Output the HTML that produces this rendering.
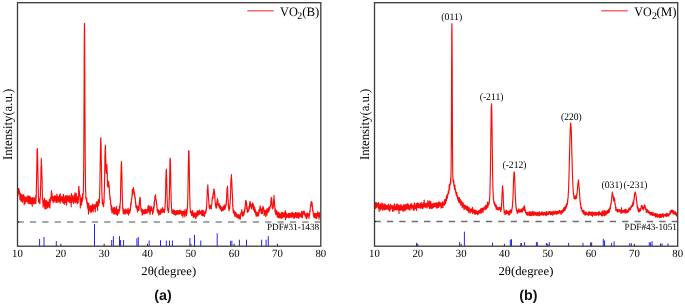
<!DOCTYPE html>
<html><head><meta charset="utf-8"><style>
html,body{margin:0;padding:0;background:#fff;width:685px;height:305px;overflow:hidden;font-family:"Liberation Serif",serif;}
svg{display:block;will-change:transform} text{text-rendering:geometricPrecision}
</style></head><body>
<svg width="685" height="305" viewBox="0 0 685 305">
<rect width="685" height="305" fill="#fff"/>
<g font-family="Liberation Serif, serif">
<line x1="17.5" y1="222.0" x2="320.8" y2="222.0" stroke="#8a8a8a" stroke-width="1.3" stroke-dasharray="6.3 6.08"/>
<line x1="374.5" y1="221.5" x2="677.7" y2="221.5" stroke="#6e6e6e" stroke-width="1.3" stroke-dasharray="6.3 6.08"/>
<line x1="17.5" y1="222.1" x2="19.1" y2="222.1" stroke="#222" stroke-width="1.2"/><line x1="374.5" y1="221.5" x2="376.1" y2="221.5" stroke="#222" stroke-width="1.2"/>
<g stroke="#2323f5" stroke-width="1.0"><line x1="39.6" y1="246.2" x2="39.6" y2="238.9"/><line x1="44.0" y1="246.2" x2="44.0" y2="237.0"/><line x1="56.3" y1="246.2" x2="56.3" y2="241.0"/><line x1="94.5" y1="246.2" x2="94.5" y2="224.0"/><line x1="111.7" y1="246.2" x2="111.7" y2="240.0"/><line x1="113.4" y1="246.2" x2="113.4" y2="236.2"/><line x1="119.5" y1="246.2" x2="119.5" y2="236.2"/><line x1="120.6" y1="246.2" x2="120.6" y2="240.0"/><line x1="123.6" y1="246.2" x2="123.6" y2="240.0"/><line x1="136.9" y1="246.2" x2="136.9" y2="238.3"/><line x1="138.3" y1="246.2" x2="138.3" y2="237.1"/><line x1="149.2" y1="246.2" x2="149.2" y2="240.5"/><line x1="160.5" y1="246.2" x2="160.5" y2="240.2"/><line x1="166.3" y1="246.2" x2="166.3" y2="240.5"/><line x1="169.5" y1="246.2" x2="169.5" y2="240.5"/><line x1="172.4" y1="246.2" x2="172.4" y2="240.5"/><line x1="189.9" y1="246.2" x2="189.9" y2="238.0"/><line x1="194.5" y1="246.2" x2="194.5" y2="234.9"/><line x1="200.8" y1="246.2" x2="200.8" y2="240.5"/><line x1="217.2" y1="246.2" x2="217.2" y2="233.3"/><line x1="230.6" y1="246.2" x2="230.6" y2="240.8"/><line x1="231.9" y1="246.2" x2="231.9" y2="240.8"/><line x1="239.4" y1="246.2" x2="239.4" y2="239.7"/><line x1="246.5" y1="246.2" x2="246.5" y2="239.7"/><line x1="261.6" y1="246.2" x2="261.6" y2="239.7"/><line x1="266.1" y1="246.2" x2="266.1" y2="239.7"/><line x1="268.3" y1="246.2" x2="268.3" y2="236.1"/><line x1="416.5" y1="246.2" x2="416.5" y2="242.9"/><line x1="459.6" y1="246.2" x2="459.6" y2="242.0"/><line x1="464.4" y1="246.2" x2="464.4" y2="231.7"/><line x1="492.5" y1="246.2" x2="492.5" y2="242.6"/><line x1="510.3" y1="246.2" x2="510.3" y2="239.7"/><line x1="511.5" y1="246.2" x2="511.5" y2="239.2"/><line x1="520.8" y1="246.2" x2="520.8" y2="243.2"/><line x1="521.6" y1="246.2" x2="521.6" y2="243.0"/><line x1="524.6" y1="246.2" x2="524.6" y2="242.1"/><line x1="536.4" y1="246.2" x2="536.4" y2="242.1"/><line x1="537.3" y1="246.2" x2="537.3" y2="242.1"/><line x1="546.4" y1="246.2" x2="546.4" y2="242.9"/><line x1="549.3" y1="246.2" x2="549.3" y2="242.1"/><line x1="568.6" y1="246.2" x2="568.6" y2="242.9"/><line x1="583.0" y1="246.2" x2="583.0" y2="242.9"/><line x1="590.6" y1="246.2" x2="590.6" y2="242.4"/><line x1="591.7" y1="246.2" x2="591.7" y2="242.4"/><line x1="603.3" y1="246.2" x2="603.3" y2="238.8"/><line x1="604.6" y1="246.2" x2="604.6" y2="240.5"/><line x1="611.6" y1="246.2" x2="611.6" y2="243.0"/><line x1="614.1" y1="246.2" x2="614.1" y2="241.4"/><line x1="629.7" y1="246.2" x2="629.7" y2="243.2"/><line x1="631.4" y1="246.2" x2="631.4" y2="243.2"/><line x1="649.3" y1="246.2" x2="649.3" y2="242.3"/><line x1="650.6" y1="246.2" x2="650.6" y2="242.3"/><line x1="652.1" y1="246.2" x2="652.1" y2="241.1"/><line x1="660.5" y1="246.2" x2="660.5" y2="243.4"/><line x1="662.0" y1="246.2" x2="662.0" y2="243.4"/><line x1="668.0" y1="246.2" x2="668.0" y2="243.4"/></g>
<polyline points="17.9,196.2 18.0,193.9 18.1,192.9 18.2,194.2 18.3,189.9 18.4,193.2 18.5,188.4 18.6,191.2 18.7,189.5 18.8,192.6 18.9,188.9 19.0,189.5 19.1,192.7 19.2,191.2 19.3,192.3 19.4,190.6 19.5,192.4 19.6,194.1 19.7,192.5 19.8,192.2 19.9,199.2 20.0,198.0 20.1,193.3 20.2,193.4 20.3,194.0 20.4,194.1 20.5,193.6 20.6,200.1 20.7,198.5 20.8,198.7 20.9,196.9 21.0,198.8 21.1,200.1 21.2,201.1 21.3,197.5 21.4,199.2 21.5,198.8 21.6,197.6 21.7,194.4 21.8,196.0 21.9,194.6 22.0,197.2 22.1,196.4 22.2,194.8 22.3,201.9 22.4,198.0 22.5,202.2 22.6,199.0 22.7,195.7 22.8,196.9 22.9,201.0 23.0,195.9 23.1,197.9 23.2,198.6 23.3,199.5 23.4,195.0 23.5,198.2 23.6,199.6 23.7,194.7 23.8,198.4 23.9,197.8 24.0,199.7 24.1,199.0 24.2,204.8 24.3,197.6 24.4,196.6 24.5,197.3 24.6,200.2 24.7,200.7 24.8,201.4 24.9,199.7 25.0,200.8 25.1,199.3 25.2,197.7 25.3,203.2 25.4,201.2 25.5,198.7 25.6,197.9 25.7,198.8 25.8,199.2 25.9,199.2 26.0,199.3 26.1,196.7 26.2,200.2 26.3,198.8 26.4,197.1 26.5,199.0 26.6,201.6 26.7,200.3 26.8,199.3 26.9,201.7 27.0,200.8 27.1,199.5 27.2,200.4 27.3,199.6 27.4,198.7 27.5,201.1 27.6,199.4 27.7,196.2 27.8,197.3 27.9,195.8 28.0,203.2 28.1,197.7 28.2,198.8 28.3,198.4 28.4,201.8 28.5,200.6 28.6,198.9 28.7,199.2 28.8,198.5 28.9,196.0 29.0,197.0 29.1,201.8 29.2,203.6 29.3,197.5 29.4,200.3 29.5,196.1 29.6,196.9 29.7,202.3 29.8,199.6 29.9,202.5 30.0,197.5 30.1,197.1 30.2,200.9 30.3,203.5 30.4,202.7 30.5,198.5 30.6,201.1 30.7,197.0 30.8,198.9 30.9,197.3 31.0,203.9 31.1,202.7 31.2,203.0 31.3,201.4 31.4,200.0 31.5,199.2 31.6,203.8 31.7,203.1 31.8,199.7 31.9,200.0 32.0,198.5 32.1,198.4 32.2,201.4 32.3,206.3 32.4,198.2 32.5,197.5 32.6,200.7 32.7,199.8 32.8,201.9 32.9,203.1 33.0,200.1 33.1,201.5 33.2,201.5 33.3,200.3 33.4,198.5 33.5,198.5 33.6,203.7 33.7,200.6 33.8,202.7 33.9,199.4 34.0,200.2 34.1,197.3 34.2,202.6 34.3,198.8 34.4,201.4 34.5,198.9 34.6,202.5 34.7,201.5 34.8,198.9 34.9,203.8 35.0,199.8 35.1,201.3 35.2,202.4 35.3,202.3 35.4,200.2 35.5,200.9 35.6,201.8 35.7,199.9 35.8,195.3 35.9,203.2 36.0,199.7 36.1,198.7 36.2,197.8 36.3,191.0 36.4,186.9 36.5,183.6 36.6,178.7 36.7,173.7 36.8,166.7 36.9,160.8 37.0,157.8 37.1,149.5 37.2,149.4 37.3,150.1 37.4,148.5 37.5,151.3 37.6,158.0 37.7,160.5 37.8,166.1 37.9,172.8 38.0,175.8 38.1,181.0 38.2,188.0 38.3,189.5 38.4,197.7 38.5,195.8 38.6,201.7 38.7,200.2 38.8,200.2 38.9,200.0 39.0,202.4 39.1,198.7 39.2,201.4 39.3,199.0 39.4,199.8 39.5,203.0 39.6,198.9 39.7,200.3 39.8,198.7 39.9,203.7 40.0,200.7 40.1,199.2 40.2,197.7 40.3,196.7 40.4,196.1 40.5,186.9 40.6,188.7 40.7,185.3 40.8,179.5 40.9,175.2 41.0,166.9 41.1,168.9 41.2,166.5 41.3,158.5 41.4,163.4 41.5,163.6 41.6,165.1 41.7,168.3 41.8,169.7 41.9,175.2 42.0,176.4 42.1,179.8 42.2,189.4 42.3,189.1 42.4,199.6 42.5,198.9 42.6,198.9 42.7,199.4 42.8,203.1 42.9,202.1 43.0,201.2 43.1,207.2 43.2,200.7 43.3,202.0 43.4,200.5 43.5,202.9 43.6,201.1 43.7,204.8 43.8,204.8 43.9,201.3 44.0,203.7 44.1,202.9 44.2,204.3 44.3,205.1 44.4,198.5 44.5,202.7 44.6,198.2 44.7,207.3 44.8,202.9 44.9,209.0 45.0,204.3 45.1,203.3 45.2,200.5 45.3,203.5 45.4,204.2 45.5,208.0 45.6,206.3 45.7,206.6 45.8,203.4 45.9,202.5 46.0,208.7 46.1,204.1 46.2,203.1 46.3,208.5 46.4,200.4 46.5,200.8 46.6,203.5 46.7,203.9 46.8,201.7 46.9,201.9 47.0,201.2 47.1,204.9 47.2,203.9 47.3,205.4 47.4,204.6 47.5,202.1 47.6,207.7 47.7,208.0 47.8,203.2 47.9,203.2 48.0,206.0 48.1,202.0 48.2,204.6 48.3,203.5 48.4,203.0 48.5,203.0 48.6,205.0 48.7,206.2 48.8,204.4 48.9,204.4 49.0,202.7 49.1,203.9 49.2,206.9 49.3,199.5 49.4,204.3 49.5,199.3 49.6,201.7 49.7,202.8 49.8,202.0 49.9,208.1 50.0,202.9 50.1,204.1 50.2,199.8 50.3,199.5 50.4,201.2 50.5,197.6 50.6,201.0 50.7,198.9 50.8,200.7 50.9,197.2 51.0,196.0 51.1,196.0 51.2,195.7 51.3,193.5 51.4,192.4 51.5,190.5 51.6,198.3 51.7,198.3 51.8,195.3 51.9,198.2 52.0,193.4 52.1,197.9 52.2,196.6 52.3,196.3 52.4,200.4 52.5,199.9 52.6,198.3 52.7,197.6 52.8,200.2 52.9,196.9 53.0,200.0 53.1,202.6 53.2,200.0 53.3,200.2 53.4,201.6 53.5,198.2 53.6,200.3 53.7,199.7 53.8,196.8 53.9,202.0 54.0,199.5 54.1,202.0 54.2,197.6 54.3,200.2 54.4,195.8 54.5,199.2 54.6,199.7 54.7,196.0 54.8,198.6 54.9,200.6 55.0,198.5 55.1,200.5 55.2,200.6 55.3,198.0 55.4,198.3 55.5,195.9 55.6,197.9 55.7,197.8 55.8,196.2 55.9,198.8 56.0,202.6 56.1,199.8 56.2,200.5 56.3,199.2 56.4,199.2 56.5,200.0 56.6,201.3 56.7,200.2 56.8,199.2 56.9,194.0 57.0,199.1 57.1,202.5 57.2,199.6 57.3,195.8 57.4,195.7 57.5,200.7 57.6,200.7 57.7,196.8 57.8,198.1 57.9,197.4 58.0,200.3 58.1,197.8 58.2,199.1 58.3,198.1 58.4,200.6 58.5,197.1 58.6,201.8 58.7,198.4 58.8,200.0 58.9,201.9 59.0,198.6 59.1,196.0 59.2,199.2 59.3,199.7 59.4,195.0 59.5,198.7 59.6,197.7 59.7,201.1 59.8,200.5 59.9,197.5 60.0,198.7 60.1,202.2 60.2,203.2 60.3,193.7 60.4,198.8 60.5,198.0 60.6,199.2 60.7,199.7 60.8,198.4 60.9,199.2 61.0,198.4 61.1,196.6 61.2,197.3 61.3,198.8 61.4,201.1 61.5,200.6 61.6,198.3 61.7,197.9 61.8,199.0 61.9,199.8 62.0,198.0 62.1,197.8 62.2,199.4 62.3,196.9 62.4,199.1 62.5,197.8 62.6,201.9 62.7,199.7 62.8,196.7 62.9,200.5 63.0,202.9 63.1,199.5 63.2,201.3 63.3,195.3 63.4,194.4 63.5,197.8 63.6,198.7 63.7,197.0 63.8,200.0 63.9,200.8 64.0,198.7 64.1,203.6 64.2,198.1 64.3,200.4 64.4,204.1 64.5,200.9 64.6,204.3 64.7,199.2 64.8,202.9 64.9,199.5 65.0,196.2 65.1,196.1 65.2,198.8 65.3,202.6 65.4,200.1 65.5,200.4 65.6,198.3 65.7,200.5 65.8,199.0 65.9,202.3 66.0,195.6 66.1,199.6 66.2,198.3 66.3,201.1 66.4,199.5 66.5,197.9 66.6,205.2 66.7,196.5 66.8,201.0 66.9,201.4 67.0,197.1 67.1,198.7 67.2,195.6 67.3,199.1 67.4,196.3 67.5,197.5 67.6,199.4 67.7,200.9 67.8,198.5 67.9,197.8 68.0,200.5 68.1,198.5 68.2,196.3 68.3,201.2 68.4,196.1 68.5,197.9 68.6,199.4 68.7,200.3 68.8,199.1 68.9,200.6 69.0,201.9 69.1,201.2 69.2,200.8 69.3,197.5 69.4,201.4 69.5,200.8 69.6,197.9 69.7,195.4 69.8,201.3 69.9,202.7 70.0,200.4 70.1,200.0 70.2,198.3 70.3,198.1 70.4,200.0 70.5,197.3 70.6,200.8 70.7,200.5 70.8,199.7 70.9,199.8 71.0,198.1 71.1,196.9 71.2,206.8 71.3,194.9 71.4,196.0 71.5,193.6 71.6,200.7 71.7,198.4 71.8,200.2 71.9,202.6 72.0,196.6 72.1,198.0 72.2,198.0 72.3,195.6 72.4,196.7 72.5,200.1 72.6,196.7 72.7,198.6 72.8,198.4 72.9,200.1 73.0,198.0 73.1,199.1 73.2,201.9 73.3,201.9 73.4,198.2 73.5,200.1 73.6,203.6 73.7,198.6 73.8,198.4 73.9,196.1 74.0,199.4 74.1,195.1 74.2,199.5 74.3,202.2 74.4,195.3 74.5,196.1 74.6,198.0 74.7,200.9 74.8,196.7 74.9,198.7 75.0,192.7 75.1,194.9 75.2,197.6 75.3,197.8 75.4,196.4 75.5,195.2 75.6,200.6 75.7,202.7 75.8,197.2 75.9,199.0 76.0,198.2 76.1,198.6 76.2,201.4 76.3,193.2 76.4,198.2 76.5,197.1 76.6,201.9 76.7,199.2 76.8,200.3 76.9,201.6 77.0,199.6 77.1,198.5 77.2,199.8 77.3,203.8 77.4,199.7 77.5,198.9 77.6,196.8 77.7,200.2 77.8,199.3 77.9,199.0 78.0,202.0 78.1,202.8 78.2,198.9 78.3,196.0 78.4,199.7 78.5,197.3 78.6,194.4 78.7,186.6 78.8,189.0 78.9,186.4 79.0,188.8 79.1,192.6 79.2,190.2 79.3,190.7 79.4,190.8 79.5,195.5 79.6,194.1 79.7,195.6 79.8,196.8 79.9,196.3 80.0,201.6 80.1,198.9 80.2,195.5 80.3,207.9 80.4,201.7 80.5,202.1 80.6,204.3 80.7,198.1 80.8,200.2 80.9,203.8 81.0,200.1 81.1,199.1 81.2,201.5 81.3,198.4 81.4,202.1 81.5,199.1 81.6,205.1 81.7,197.9 81.8,201.8 81.9,197.6 82.0,200.0 82.1,198.9 82.2,197.1 82.3,201.4 82.4,198.1 82.5,194.2 82.6,196.7 82.7,199.8 82.8,197.3 82.9,193.3 83.0,193.7 83.1,194.4 83.2,194.4 83.3,193.0 83.4,189.5 83.5,184.3 83.6,175.3 83.7,166.9 83.8,154.0 83.9,134.1 84.0,112.0 84.1,91.6 84.2,61.4 84.3,40.6 84.4,24.5 84.5,23.3 84.6,30.7 84.7,45.1 84.8,65.0 84.9,91.8 85.0,115.5 85.1,134.5 85.2,153.9 85.3,165.3 85.4,177.4 85.5,185.0 85.6,191.2 85.7,190.9 85.8,193.5 85.9,198.4 86.0,197.5 86.1,199.2 86.2,197.6 86.3,197.4 86.4,198.6 86.5,201.0 86.6,200.9 86.7,198.4 86.8,203.3 86.9,202.1 87.0,203.3 87.1,203.7 87.2,203.6 87.3,201.8 87.4,206.2 87.5,206.1 87.6,203.5 87.7,208.1 87.8,206.8 87.9,203.1 88.0,209.1 88.1,207.6 88.2,208.4 88.3,205.0 88.4,208.3 88.5,214.1 88.6,208.7 88.7,208.4 88.8,203.2 88.9,206.7 89.0,212.0 89.1,208.6 89.2,205.4 89.3,210.0 89.4,207.6 89.5,206.8 89.6,210.1 89.7,210.6 89.8,210.2 89.9,209.6 90.0,210.0 90.1,209.9 90.2,208.6 90.3,207.9 90.4,208.7 90.5,205.7 90.6,207.6 90.7,209.3 90.8,206.2 90.9,212.8 91.0,211.4 91.1,210.9 91.2,207.3 91.3,206.5 91.4,211.8 91.5,209.6 91.6,205.9 91.7,206.7 91.8,208.7 91.9,211.0 92.0,209.6 92.1,207.1 92.2,206.8 92.3,210.0 92.4,204.2 92.5,208.2 92.6,209.6 92.7,211.0 92.8,205.5 92.9,207.8 93.0,208.6 93.1,205.4 93.2,212.0 93.3,207.1 93.4,206.8 93.5,205.9 93.6,205.4 93.7,207.6 93.8,206.2 93.9,204.8 94.0,207.6 94.1,208.7 94.2,204.9 94.3,206.2 94.4,205.5 94.5,205.4 94.6,205.0 94.7,205.6 94.8,205.1 94.9,206.4 95.0,209.8 95.1,206.7 95.2,205.9 95.3,211.8 95.4,207.9 95.5,205.0 95.6,206.2 95.7,205.3 95.8,204.2 95.9,204.4 96.0,206.0 96.1,206.5 96.2,205.2 96.3,202.7 96.4,204.9 96.5,207.0 96.6,206.1 96.7,201.7 96.8,204.0 96.9,205.2 97.0,204.3 97.1,205.8 97.2,202.1 97.3,205.8 97.4,205.6 97.5,203.8 97.6,210.4 97.7,204.8 97.8,204.2 97.9,206.2 98.0,204.4 98.1,204.7 98.2,204.9 98.3,199.6 98.4,201.2 98.5,204.4 98.6,201.4 98.7,205.6 98.8,204.2 98.9,202.2 99.0,202.4 99.1,203.4 99.2,202.8 99.3,202.9 99.4,201.9 99.5,199.2 99.6,196.8 99.7,191.6 99.8,188.5 99.9,185.7 100.0,178.1 100.1,169.7 100.2,163.4 100.3,158.6 100.4,152.9 100.5,146.9 100.6,143.7 100.7,140.6 100.8,137.7 100.9,140.4 101.0,143.0 101.1,146.7 101.2,152.8 101.3,161.4 101.4,163.3 101.5,171.6 101.6,177.5 101.7,182.6 101.8,187.3 101.9,193.4 102.0,194.2 102.1,198.4 102.2,199.5 102.3,204.0 102.4,199.6 102.5,204.0 102.6,201.7 102.7,203.6 102.8,203.7 102.9,202.4 103.0,203.5 103.1,205.7 103.2,204.4 103.3,205.2 103.4,202.0 103.5,204.8 103.6,206.7 103.7,203.1 103.8,203.0 103.9,199.9 104.0,203.2 104.1,199.4 104.2,195.9 104.3,191.5 104.4,189.8 104.5,182.6 104.6,177.2 104.7,173.4 104.8,169.0 104.9,155.4 105.0,155.3 105.1,150.6 105.2,147.4 105.3,146.9 105.4,145.2 105.5,150.6 105.6,155.0 105.7,159.2 105.8,159.2 105.9,164.0 106.0,171.5 106.1,166.0 106.2,170.4 106.3,173.5 106.4,170.5 106.5,167.4 106.6,164.6 106.7,165.5 106.8,164.6 106.9,167.0 107.0,167.9 107.1,170.4 107.2,172.7 107.3,176.9 107.4,179.4 107.5,185.8 107.6,184.1 107.7,184.2 107.8,186.0 107.9,185.1 108.0,187.1 108.1,186.6 108.2,186.9 108.3,184.6 108.4,186.6 108.5,185.4 108.6,186.7 108.7,181.2 108.8,184.1 108.9,186.1 109.0,185.7 109.1,184.8 109.2,187.7 109.3,188.4 109.4,189.7 109.5,192.5 109.6,193.1 109.7,194.0 109.8,195.8 109.9,197.2 110.0,199.6 110.1,196.6 110.2,197.7 110.3,199.9 110.4,199.3 110.5,200.3 110.6,200.3 110.7,204.5 110.8,203.6 110.9,204.0 111.0,204.6 111.1,207.0 111.2,207.1 111.3,210.0 111.4,205.4 111.5,206.2 111.6,209.1 111.7,206.3 111.8,212.3 111.9,211.0 112.0,208.6 112.1,207.5 112.2,213.0 112.3,211.3 112.4,209.9 112.5,210.9 112.6,208.7 112.7,211.7 112.8,210.7 112.9,210.7 113.0,209.6 113.1,211.7 113.2,209.7 113.3,208.9 113.4,210.0 113.5,209.7 113.6,208.2 113.7,212.0 113.8,214.1 113.9,210.9 114.0,207.1 114.1,212.2 114.2,212.3 114.3,210.3 114.4,209.5 114.5,209.2 114.6,211.2 114.7,211.6 114.8,214.0 114.9,207.6 115.0,210.2 115.1,211.1 115.2,213.3 115.3,210.8 115.4,210.5 115.5,213.4 115.6,208.8 115.7,210.2 115.8,211.9 115.9,212.3 116.0,210.7 116.1,209.3 116.2,211.5 116.3,212.8 116.4,214.6 116.5,210.6 116.6,206.3 116.7,212.5 116.8,212.9 116.9,213.2 117.0,211.3 117.1,209.6 117.2,212.9 117.3,210.0 117.4,210.1 117.5,215.3 117.6,211.6 117.7,210.0 117.8,209.6 117.9,210.9 118.0,211.5 118.1,211.2 118.2,212.3 118.3,211.5 118.4,210.6 118.5,212.4 118.6,210.6 118.7,211.8 118.8,212.5 118.9,213.8 119.0,210.6 119.1,209.1 119.2,211.2 119.3,211.2 119.4,210.2 119.5,205.9 119.6,209.6 119.7,210.2 119.8,209.4 119.9,208.5 120.0,207.3 120.1,203.2 120.2,204.1 120.3,203.1 120.4,200.7 120.5,196.7 120.6,190.8 120.7,186.6 120.8,182.1 120.9,176.2 121.0,172.9 121.1,171.0 121.2,165.1 121.3,164.9 121.4,163.5 121.5,161.5 121.6,163.4 121.7,170.9 121.8,171.7 121.9,175.7 122.0,179.9 122.1,186.1 122.2,192.3 122.3,197.1 122.4,197.8 122.5,202.0 122.6,203.1 122.7,208.8 122.8,207.5 122.9,208.8 123.0,212.0 123.1,209.6 123.2,208.2 123.3,213.6 123.4,213.8 123.5,211.7 123.6,210.8 123.7,213.1 123.8,212.9 123.9,211.7 124.0,212.1 124.1,210.0 124.2,209.9 124.3,210.4 124.4,213.6 124.5,210.9 124.6,211.5 124.7,210.8 124.8,211.5 124.9,212.0 125.0,211.6 125.1,214.2 125.2,211.2 125.3,211.9 125.4,209.6 125.5,210.7 125.6,212.3 125.7,212.5 125.8,208.9 125.9,212.6 126.0,213.1 126.1,213.0 126.2,210.8 126.3,210.9 126.4,210.6 126.5,210.2 126.6,210.8 126.7,213.0 126.8,211.3 126.9,211.3 127.0,210.0 127.1,211.9 127.2,211.7 127.3,212.8 127.4,212.7 127.5,210.9 127.6,211.1 127.7,213.5 127.8,213.6 127.9,208.9 128.0,212.6 128.1,208.1 128.2,213.6 128.3,213.3 128.4,210.1 128.5,215.1 128.6,210.9 128.7,211.7 128.8,210.4 128.9,212.5 129.0,213.6 129.1,212.6 129.2,212.3 129.3,211.8 129.4,210.7 129.5,212.1 129.6,209.7 129.7,210.0 129.8,212.8 129.9,211.0 130.0,210.8 130.1,211.7 130.2,210.1 130.3,208.5 130.4,210.1 130.5,207.9 130.6,204.4 130.7,205.6 130.8,206.1 130.9,203.2 131.0,202.2 131.1,202.8 131.2,203.6 131.3,204.0 131.4,200.0 131.5,199.5 131.6,199.9 131.7,198.2 131.8,198.0 131.9,198.1 132.0,195.2 132.1,195.7 132.2,194.3 132.3,189.6 132.4,195.0 132.5,191.9 132.6,191.3 132.7,189.9 132.8,190.8 132.9,192.1 133.0,191.1 133.1,189.0 133.2,192.4 133.3,190.5 133.4,189.2 133.5,187.5 133.6,190.0 133.7,190.3 133.8,191.4 133.9,189.7 134.0,192.4 134.1,194.6 134.2,191.3 134.3,193.0 134.4,193.3 134.5,195.0 134.6,192.8 134.7,196.1 134.8,196.9 134.9,197.3 135.0,198.4 135.1,196.5 135.2,199.2 135.3,197.7 135.4,199.5 135.5,203.1 135.6,203.7 135.7,201.7 135.8,203.2 135.9,207.3 136.0,205.0 136.1,205.2 136.2,207.6 136.3,206.0 136.4,206.8 136.5,207.1 136.6,207.9 136.7,208.0 136.8,205.8 136.9,208.1 137.0,207.5 137.1,209.6 137.2,209.3 137.3,209.3 137.4,207.8 137.5,212.0 137.6,209.7 137.7,207.5 137.8,210.7 137.9,210.5 138.0,209.6 138.1,206.0 138.2,207.2 138.3,207.7 138.4,209.2 138.5,210.4 138.6,209.4 138.7,209.6 138.8,208.6 138.9,208.4 139.0,210.2 139.1,207.1 139.2,207.7 139.3,203.8 139.4,204.7 139.5,201.1 139.6,200.2 139.7,202.1 139.8,198.2 139.9,198.3 140.0,197.3 140.1,197.6 140.2,197.5 140.3,199.5 140.4,200.9 140.5,203.5 140.6,204.0 140.7,206.0 140.8,207.0 140.9,208.6 141.0,208.6 141.1,211.0 141.2,209.1 141.3,211.5 141.4,210.3 141.5,208.7 141.6,210.0 141.7,210.9 141.8,210.6 141.9,212.3 142.0,210.4 142.1,212.6 142.2,215.1 142.3,211.3 142.4,211.0 142.5,209.9 142.6,214.6 142.7,209.5 142.8,209.5 142.9,210.1 143.0,213.2 143.1,213.5 143.2,211.1 143.3,210.4 143.4,210.1 143.5,213.1 143.6,212.0 143.7,210.5 143.8,213.6 143.9,212.0 144.0,212.9 144.1,211.2 144.2,211.9 144.3,212.1 144.4,213.7 144.5,212.4 144.6,209.9 144.7,212.5 144.8,212.5 144.9,211.3 145.0,209.4 145.1,212.6 145.2,209.3 145.3,213.7 145.4,211.6 145.5,213.0 145.6,212.2 145.7,212.6 145.8,213.5 145.9,210.1 146.0,212.2 146.1,209.5 146.2,212.6 146.3,212.0 146.4,211.4 146.5,211.1 146.6,211.4 146.7,210.0 146.8,211.9 146.9,210.4 147.0,211.0 147.1,213.1 147.2,211.6 147.3,212.4 147.4,211.3 147.5,209.2 147.6,209.8 147.7,210.8 147.8,211.9 147.9,207.2 148.0,208.5 148.1,209.1 148.2,205.2 148.3,206.4 148.4,206.9 148.5,206.6 148.6,207.1 148.7,210.6 148.8,208.4 148.9,208.5 149.0,210.9 149.1,212.1 149.2,212.3 149.3,212.1 149.4,210.6 149.5,211.3 149.6,211.0 149.7,206.4 149.8,212.3 149.9,211.3 150.0,213.6 150.1,214.6 150.2,210.7 150.3,212.1 150.4,209.6 150.5,208.4 150.6,211.4 150.7,209.6 150.8,210.8 150.9,209.7 151.0,206.2 151.1,210.3 151.2,208.0 151.3,209.1 151.4,207.5 151.5,210.3 151.6,207.4 151.7,210.4 151.8,208.3 151.9,209.6 152.0,210.1 152.1,210.5 152.2,210.5 152.3,210.2 152.4,211.4 152.5,212.3 152.6,214.2 152.7,211.2 152.8,211.2 152.9,210.9 153.0,210.5 153.1,212.7 153.2,209.3 153.3,212.0 153.4,207.2 153.5,209.2 153.6,208.4 153.7,207.0 153.8,206.2 153.9,208.9 154.0,207.8 154.1,205.0 154.2,201.3 154.3,206.1 154.4,201.2 154.5,202.8 154.6,200.9 154.7,200.5 154.8,200.0 154.9,196.4 155.0,196.3 155.1,198.1 155.2,196.9 155.3,197.7 155.4,196.6 155.5,195.6 155.6,194.9 155.7,198.6 155.8,199.7 155.9,198.9 156.0,198.9 156.1,200.2 156.2,200.5 156.3,200.2 156.4,201.1 156.5,203.6 156.6,204.2 156.7,205.1 156.8,203.9 156.9,206.2 157.0,207.7 157.1,207.8 157.2,210.9 157.3,209.9 157.4,210.4 157.5,210.3 157.6,212.0 157.7,209.2 157.8,209.5 157.9,209.9 158.0,212.8 158.1,209.6 158.2,211.1 158.3,211.3 158.4,213.9 158.5,212.2 158.6,210.4 158.7,213.0 158.8,211.1 158.9,215.2 159.0,213.1 159.1,213.5 159.2,211.1 159.3,214.1 159.4,211.9 159.5,211.8 159.6,213.2 159.7,212.5 159.8,211.0 159.9,213.4 160.0,212.7 160.1,210.3 160.2,211.0 160.3,211.8 160.4,213.3 160.5,213.4 160.6,214.3 160.7,212.1 160.8,210.4 160.9,210.5 161.0,208.9 161.1,210.4 161.2,211.6 161.3,210.3 161.4,209.0 161.5,211.5 161.6,212.2 161.7,210.6 161.8,212.8 161.9,212.7 162.0,210.0 162.1,212.0 162.2,211.1 162.3,210.0 162.4,212.2 162.5,209.9 162.6,207.6 162.7,211.0 162.8,210.6 162.9,209.5 163.0,209.8 163.1,211.8 163.2,210.3 163.3,209.0 163.4,209.6 163.5,210.5 163.6,210.2 163.7,211.9 163.8,209.8 163.9,209.6 164.0,210.2 164.1,210.3 164.2,212.6 164.3,210.7 164.4,209.8 164.5,212.3 164.6,209.5 164.7,209.3 164.8,209.7 164.9,209.1 165.0,206.9 165.1,205.4 165.2,202.6 165.3,203.8 165.4,200.2 165.5,197.2 165.6,193.1 165.7,187.5 165.8,181.2 165.9,177.6 166.0,176.9 166.1,173.6 166.2,170.6 166.3,170.5 166.4,169.2 166.5,173.5 166.6,175.8 166.7,178.1 166.8,183.8 166.9,186.6 167.0,192.0 167.1,196.9 167.2,199.8 167.3,201.4 167.4,206.6 167.5,207.6 167.6,208.2 167.7,208.1 167.8,210.1 167.9,209.9 168.0,210.6 168.1,211.1 168.2,211.1 168.3,212.4 168.4,208.9 168.5,211.7 168.6,212.2 168.7,212.2 168.8,208.7 168.9,207.8 169.0,207.4 169.1,201.3 169.2,197.4 169.3,199.0 169.4,193.6 169.5,187.9 169.6,182.0 169.7,176.2 169.8,170.8 169.9,163.9 170.0,160.3 170.1,158.1 170.2,159.1 170.3,159.1 170.4,161.9 170.5,164.0 170.6,170.8 170.7,173.2 170.8,183.4 170.9,189.1 171.0,193.2 171.1,196.6 171.2,202.7 171.3,202.4 171.4,203.8 171.5,208.5 171.6,208.9 171.7,209.9 171.8,212.1 171.9,211.6 172.0,211.5 172.1,213.1 172.2,212.6 172.3,211.9 172.4,211.2 172.5,211.4 172.6,210.4 172.7,212.5 172.8,212.4 172.9,213.3 173.0,210.4 173.1,209.6 173.2,210.7 173.3,211.5 173.4,213.2 173.5,211.9 173.6,211.1 173.7,211.2 173.8,214.3 173.9,213.4 174.0,212.0 174.1,213.6 174.2,213.1 174.3,213.3 174.4,213.7 174.5,212.7 174.6,210.3 174.7,214.6 174.8,214.1 174.9,214.1 175.0,214.4 175.1,214.7 175.2,213.1 175.3,212.9 175.4,214.7 175.5,211.6 175.6,215.1 175.7,211.0 175.8,213.8 175.9,213.0 176.0,213.7 176.1,212.8 176.2,211.4 176.3,213.4 176.4,214.2 176.5,210.7 176.6,214.5 176.7,213.3 176.8,212.0 176.9,214.3 177.0,212.3 177.1,213.4 177.2,212.2 177.3,211.3 177.4,213.1 177.5,211.0 177.6,212.8 177.7,212.9 177.8,210.2 177.9,214.0 178.0,214.1 178.1,212.4 178.2,212.9 178.3,213.4 178.4,212.4 178.5,213.6 178.6,211.0 178.7,212.0 178.8,212.2 178.9,211.2 179.0,211.5 179.1,212.1 179.2,214.2 179.3,210.8 179.4,212.7 179.5,210.0 179.6,212.7 179.7,212.1 179.8,211.2 179.9,212.1 180.0,210.0 180.1,213.7 180.2,212.2 180.3,211.8 180.4,212.1 180.5,211.8 180.6,213.1 180.7,212.7 180.8,213.5 180.9,211.5 181.0,211.1 181.1,212.6 181.2,212.8 181.3,211.9 181.4,212.8 181.5,212.7 181.6,213.4 181.7,213.6 181.8,215.3 181.9,211.0 182.0,214.5 182.1,213.4 182.2,215.4 182.3,213.2 182.4,213.2 182.5,212.6 182.6,211.5 182.7,212.3 182.8,213.0 182.9,217.1 183.0,215.0 183.1,211.6 183.2,212.2 183.3,212.2 183.4,213.0 183.5,213.6 183.6,213.7 183.7,214.2 183.8,213.6 183.9,213.5 184.0,212.4 184.1,213.0 184.2,209.9 184.3,214.1 184.4,213.8 184.5,215.6 184.6,212.8 184.7,212.0 184.8,212.2 184.9,216.8 185.0,214.2 185.1,212.8 185.2,213.4 185.3,212.6 185.4,212.9 185.5,211.3 185.6,212.6 185.7,212.3 185.8,212.0 185.9,214.2 186.0,209.2 186.1,212.0 186.2,212.6 186.3,213.2 186.4,211.2 186.5,215.6 186.6,211.6 186.7,212.2 186.8,210.9 186.9,213.8 187.0,212.3 187.1,211.7 187.2,208.8 187.3,208.3 187.4,208.0 187.5,205.3 187.6,204.9 187.7,201.5 187.8,196.5 187.9,192.7 188.0,187.2 188.1,180.9 188.2,174.4 188.3,167.0 188.4,162.3 188.5,159.1 188.6,151.4 188.7,151.1 188.8,152.3 188.9,150.5 189.0,151.0 189.1,157.8 189.2,161.8 189.3,168.4 189.4,174.6 189.5,181.7 189.6,187.7 189.7,193.6 189.8,199.5 189.9,198.6 190.0,205.2 190.1,208.3 190.2,208.5 190.3,209.2 190.4,212.1 190.5,210.9 190.6,212.6 190.7,211.0 190.8,212.6 190.9,212.6 191.0,211.9 191.1,212.3 191.2,211.7 191.3,211.4 191.4,215.1 191.5,212.0 191.6,212.9 191.7,215.6 191.8,212.6 191.9,214.0 192.0,211.9 192.1,213.8 192.2,214.4 192.3,213.9 192.4,213.6 192.5,211.6 192.6,215.4 192.7,210.4 192.8,213.8 192.9,213.5 193.0,214.4 193.1,213.9 193.2,217.1 193.3,212.5 193.4,216.1 193.5,217.4 193.6,215.0 193.7,214.9 193.8,215.4 193.9,216.1 194.0,212.8 194.1,215.8 194.2,214.6 194.3,214.1 194.4,213.9 194.5,216.4 194.6,216.4 194.7,213.7 194.8,215.0 194.9,214.3 195.0,213.3 195.1,215.7 195.2,212.8 195.3,217.9 195.4,216.5 195.5,213.4 195.6,214.3 195.7,214.9 195.8,215.2 195.9,214.1 196.0,218.5 196.1,213.2 196.2,213.1 196.3,215.5 196.4,216.9 196.5,216.6 196.6,216.4 196.7,214.7 196.8,215.4 196.9,214.8 197.0,214.6 197.1,211.3 197.2,212.7 197.3,210.7 197.4,211.5 197.5,212.2 197.6,212.3 197.7,213.2 197.8,213.2 197.9,213.8 198.0,215.9 198.1,211.0 198.2,214.0 198.3,214.0 198.4,211.3 198.5,213.7 198.6,211.9 198.7,213.5 198.8,214.2 198.9,212.6 199.0,214.2 199.1,214.4 199.2,212.9 199.3,210.0 199.4,213.1 199.5,211.3 199.6,213.7 199.7,210.7 199.8,211.8 199.9,213.6 200.0,212.2 200.1,211.0 200.2,213.2 200.3,212.1 200.4,213.6 200.5,213.2 200.6,212.1 200.7,211.9 200.8,213.7 200.9,212.9 201.0,212.1 201.1,214.0 201.2,213.0 201.3,211.5 201.4,212.8 201.5,214.4 201.6,211.1 201.7,215.3 201.8,212.0 201.9,210.2 202.0,213.3 202.1,212.1 202.2,213.3 202.3,212.0 202.4,214.9 202.5,213.9 202.6,214.6 202.7,215.6 202.8,213.7 202.9,212.7 203.0,210.2 203.1,214.4 203.2,214.0 203.3,210.6 203.4,215.5 203.5,211.6 203.6,213.4 203.7,213.2 203.8,213.9 203.9,215.7 204.0,212.8 204.1,214.4 204.2,215.7 204.3,213.9 204.4,213.9 204.5,216.5 204.6,215.1 204.7,212.7 204.8,214.1 204.9,213.2 205.0,213.3 205.1,211.7 205.2,212.1 205.3,210.9 205.4,212.7 205.5,213.0 205.6,212.4 205.7,211.1 205.8,213.1 205.9,212.5 206.0,211.1 206.1,211.3 206.2,210.0 206.3,209.0 206.4,207.3 206.5,209.6 206.6,206.7 206.7,205.8 206.8,203.3 206.9,201.3 207.0,197.5 207.1,196.1 207.2,196.5 207.3,189.4 207.4,192.5 207.5,192.2 207.6,189.2 207.7,186.6 207.8,184.8 207.9,187.0 208.0,188.3 208.1,189.6 208.2,191.5 208.3,194.2 208.4,194.7 208.5,195.7 208.6,198.4 208.7,200.6 208.8,200.4 208.9,204.1 209.0,204.4 209.1,205.2 209.2,207.6 209.3,204.7 209.4,206.0 209.5,204.9 209.6,208.7 209.7,206.3 209.8,208.2 209.9,206.9 210.0,206.9 210.1,207.7 210.2,206.1 210.3,205.2 210.4,208.2 210.5,205.8 210.6,206.3 210.7,207.8 210.8,207.5 210.9,206.1 211.0,206.8 211.1,206.8 211.2,206.3 211.3,208.9 211.4,205.9 211.5,205.7 211.6,204.2 211.7,204.0 211.8,203.7 211.9,204.1 212.0,200.4 212.1,198.7 212.2,200.1 212.3,198.6 212.4,198.0 212.5,196.5 212.6,196.7 212.7,197.1 212.8,197.2 212.9,196.1 213.0,198.3 213.1,193.2 213.2,196.0 213.3,193.9 213.4,194.2 213.5,193.9 213.6,191.5 213.7,192.1 213.8,189.0 213.9,189.2 214.0,190.8 214.1,194.3 214.2,189.4 214.3,190.7 214.4,192.3 214.5,192.3 214.6,191.5 214.7,197.7 214.8,193.9 214.9,197.4 215.0,198.9 215.1,201.9 215.2,202.1 215.3,203.3 215.4,204.1 215.5,205.9 215.6,203.9 215.7,205.7 215.8,206.9 215.9,207.4 216.0,205.0 216.1,205.6 216.2,208.3 216.3,207.3 216.4,207.8 216.5,205.0 216.6,206.6 216.7,207.3 216.8,202.7 216.9,205.3 217.0,202.4 217.1,200.5 217.2,201.0 217.3,203.5 217.4,199.7 217.5,198.5 217.6,200.7 217.7,200.2 217.8,202.7 217.9,200.1 218.0,204.2 218.1,204.9 218.2,204.4 218.3,203.9 218.4,204.1 218.5,205.5 218.6,205.9 218.7,205.7 218.8,205.0 218.9,206.8 219.0,205.7 219.1,206.3 219.2,203.5 219.3,206.3 219.4,205.5 219.5,205.0 219.6,208.0 219.7,205.5 219.8,207.7 219.9,207.3 220.0,206.2 220.1,208.6 220.2,205.6 220.3,206.0 220.4,209.1 220.5,207.1 220.6,207.1 220.7,206.4 220.8,208.9 220.9,207.5 221.0,209.9 221.1,207.6 221.2,208.4 221.3,209.2 221.4,208.1 221.5,210.4 221.6,209.1 221.7,211.3 221.8,210.1 221.9,207.4 222.0,207.0 222.1,208.1 222.2,208.9 222.3,208.7 222.4,207.9 222.5,210.3 222.6,208.4 222.7,208.3 222.8,208.3 222.9,208.8 223.0,209.3 223.1,208.1 223.2,210.5 223.3,207.0 223.4,207.9 223.5,209.1 223.6,206.3 223.7,207.0 223.8,206.8 223.9,206.2 224.0,205.9 224.1,209.4 224.2,204.9 224.3,208.9 224.4,206.9 224.5,208.6 224.6,208.3 224.7,208.2 224.8,208.4 224.9,206.5 225.0,209.2 225.1,208.4 225.2,206.5 225.3,205.6 225.4,208.1 225.5,207.1 225.6,207.1 225.7,204.7 225.8,204.8 225.9,205.9 226.0,204.6 226.1,203.6 226.2,202.4 226.3,204.8 226.4,199.9 226.5,201.6 226.6,197.8 226.7,196.4 226.8,193.3 226.9,191.6 227.0,188.5 227.1,190.1 227.2,187.7 227.3,187.7 227.4,189.2 227.5,186.2 227.6,188.8 227.7,188.9 227.8,194.2 227.9,196.7 228.0,198.6 228.1,199.3 228.2,201.1 228.3,206.8 228.4,203.4 228.5,206.3 228.6,208.1 228.7,206.7 228.8,209.7 228.9,209.4 229.0,210.8 229.1,208.2 229.2,208.3 229.3,209.3 229.4,207.4 229.5,207.3 229.6,208.9 229.7,208.4 229.8,205.9 229.9,204.0 230.0,203.7 230.1,204.1 230.2,201.1 230.3,198.4 230.4,196.9 230.5,194.7 230.6,192.2 230.7,188.2 230.8,183.8 230.9,182.2 231.0,178.3 231.1,178.3 231.2,178.9 231.3,178.4 231.4,174.6 231.5,177.4 231.6,178.4 231.7,179.8 231.8,181.7 231.9,184.5 232.0,186.8 232.1,189.8 232.2,190.6 232.3,193.9 232.4,193.3 232.5,198.5 232.6,198.3 232.7,206.8 232.8,205.5 232.9,207.1 233.0,210.3 233.1,208.3 233.2,209.0 233.3,212.4 233.4,213.0 233.5,211.0 233.6,210.0 233.7,210.3 233.8,211.0 233.9,211.3 234.0,211.7 234.1,212.6 234.2,212.9 234.3,214.0 234.4,214.5 234.5,213.4 234.6,211.2 234.7,216.2 234.8,213.2 234.9,211.5 235.0,214.3 235.1,213.8 235.2,212.6 235.3,215.2 235.4,214.5 235.5,214.1 235.6,214.2 235.7,214.9 235.8,212.5 235.9,215.3 236.0,212.8 236.1,216.8 236.2,217.1 236.3,216.4 236.4,215.8 236.5,216.5 236.6,213.7 236.7,216.0 236.8,215.1 236.9,216.4 237.0,215.4 237.1,216.0 237.2,216.8 237.3,216.2 237.4,216.0 237.5,217.1 237.6,215.2 237.7,217.8 237.8,216.0 237.9,216.6 238.0,215.7 238.1,214.7 238.2,216.1 238.3,217.0 238.4,215.5 238.5,217.0 238.6,217.2 238.7,215.4 238.8,214.6 238.9,218.8 239.0,215.4 239.1,217.9 239.2,215.9 239.3,217.3 239.4,217.2 239.5,218.2 239.6,216.7 239.7,215.1 239.8,217.8 239.9,215.2 240.0,216.6 240.1,216.7 240.2,219.1 240.3,217.0 240.4,218.9 240.5,214.9 240.6,215.8 240.7,213.3 240.8,215.1 240.9,213.4 241.0,213.7 241.1,213.1 241.2,213.8 241.3,214.3 241.4,211.6 241.5,212.5 241.6,211.3 241.7,210.9 241.8,209.5 241.9,213.1 242.0,211.1 242.1,213.9 242.2,213.6 242.3,213.0 242.4,212.2 242.5,216.0 242.6,213.9 242.7,213.0 242.8,214.6 242.9,213.8 243.0,214.4 243.1,214.1 243.2,216.2 243.3,214.5 243.4,215.6 243.5,214.8 243.6,213.5 243.7,211.7 243.8,212.8 243.9,215.0 244.0,213.1 244.1,214.0 244.2,212.0 244.3,210.9 244.4,209.8 244.5,212.5 244.6,212.1 244.7,209.4 244.8,208.7 244.9,207.3 245.0,209.2 245.1,206.6 245.2,206.4 245.3,204.4 245.4,203.9 245.5,201.6 245.6,201.1 245.7,200.3 245.8,200.9 245.9,200.9 246.0,203.6 246.1,203.3 246.2,201.1 246.3,201.9 246.4,202.6 246.5,205.8 246.6,203.1 246.7,206.4 246.8,208.6 246.9,209.1 247.0,206.7 247.1,206.5 247.2,212.1 247.3,208.5 247.4,210.4 247.5,208.7 247.6,211.8 247.7,212.1 247.8,210.3 247.9,210.7 248.0,210.0 248.1,209.6 248.2,211.1 248.3,210.2 248.4,210.1 248.5,210.1 248.6,211.2 248.7,209.8 248.8,209.0 248.9,206.8 249.0,209.1 249.1,209.2 249.2,205.9 249.3,209.1 249.4,207.8 249.5,206.9 249.6,203.0 249.7,205.2 249.8,204.6 249.9,202.6 250.0,201.3 250.1,201.5 250.2,202.6 250.3,204.4 250.4,203.2 250.5,204.9 250.6,206.1 250.7,204.9 250.8,205.6 250.9,206.6 251.0,205.0 251.1,205.0 251.2,207.4 251.3,207.3 251.4,208.8 251.5,206.7 251.6,206.3 251.7,204.7 251.8,205.6 251.9,204.2 252.0,206.0 252.1,205.2 252.2,206.4 252.3,204.9 252.4,206.8 252.5,205.7 252.6,202.8 252.7,202.9 252.8,206.0 252.9,206.8 253.0,205.6 253.1,204.3 253.2,209.6 253.3,204.2 253.4,204.8 253.5,206.6 253.6,207.5 253.7,207.6 253.8,205.4 253.9,208.5 254.0,208.8 254.1,208.9 254.2,210.9 254.3,209.0 254.4,211.3 254.5,211.1 254.6,207.2 254.7,210.9 254.8,207.5 254.9,212.5 255.0,209.3 255.1,210.6 255.2,211.8 255.3,209.8 255.4,210.1 255.5,210.8 255.6,212.1 255.7,214.3 255.8,211.5 255.9,211.0 256.0,213.9 256.1,216.1 256.2,212.5 256.3,213.7 256.4,216.1 256.5,215.9 256.6,215.4 256.7,214.0 256.8,213.3 256.9,214.5 257.0,213.4 257.1,215.4 257.2,212.5 257.3,212.4 257.4,215.0 257.5,213.3 257.6,213.6 257.7,214.1 257.8,215.0 257.9,216.3 258.0,215.7 258.1,213.7 258.2,215.8 258.3,212.9 258.4,214.4 258.5,213.6 258.6,213.1 258.7,215.3 258.8,211.4 258.9,210.0 259.0,211.5 259.1,212.7 259.2,209.6 259.3,210.4 259.4,211.9 259.5,210.0 259.6,209.4 259.7,208.9 259.8,211.0 259.9,207.0 260.0,209.4 260.1,209.2 260.2,205.8 260.3,207.8 260.4,208.6 260.5,207.5 260.6,208.1 260.7,209.0 260.8,209.6 260.9,210.1 261.0,209.0 261.1,211.7 261.2,213.0 261.3,212.7 261.4,211.8 261.5,213.8 261.6,212.9 261.7,209.7 261.8,212.7 261.9,212.6 262.0,212.8 262.1,210.9 262.2,208.6 262.3,211.5 262.4,213.5 262.5,207.8 262.6,209.6 262.7,208.6 262.8,207.4 262.9,210.0 263.0,206.2 263.1,209.3 263.2,207.9 263.3,207.3 263.4,209.3 263.5,208.0 263.6,209.1 263.7,210.1 263.8,211.3 263.9,211.1 264.0,211.2 264.1,215.4 264.2,213.3 264.3,212.3 264.4,214.1 264.5,214.4 264.6,210.0 264.7,213.9 264.8,212.2 264.9,212.1 265.0,210.6 265.1,211.3 265.2,212.3 265.3,213.5 265.4,213.4 265.5,211.5 265.6,210.8 265.7,216.5 265.8,214.3 265.9,210.6 266.0,212.2 266.1,211.7 266.2,212.2 266.3,213.5 266.4,211.3 266.5,213.1 266.6,209.9 266.7,210.7 266.8,209.8 266.9,208.8 267.0,215.3 267.1,211.8 267.2,209.9 267.3,212.9 267.4,211.5 267.5,211.7 267.6,211.1 267.7,210.9 267.8,210.1 267.9,211.3 268.0,211.2 268.1,208.4 268.2,209.6 268.3,212.1 268.4,211.8 268.5,207.9 268.6,210.3 268.7,208.4 268.8,208.6 268.9,207.8 269.0,211.3 269.1,210.6 269.2,209.0 269.3,207.2 269.4,207.6 269.5,208.6 269.6,208.5 269.7,209.2 269.8,206.8 269.9,208.7 270.0,207.2 270.1,206.3 270.2,207.0 270.3,206.3 270.4,206.5 270.5,205.8 270.6,204.5 270.7,204.4 270.8,201.7 270.9,200.8 271.0,199.5 271.1,200.1 271.2,198.7 271.3,197.4 271.4,200.2 271.5,199.9 271.6,197.6 271.7,199.4 271.8,202.1 271.9,204.7 272.0,202.6 272.1,206.4 272.2,207.9 272.3,206.8 272.4,208.0 272.5,205.5 272.6,208.1 272.7,209.0 272.8,208.4 272.9,208.4 273.0,206.8 273.1,206.8 273.2,207.8 273.3,205.7 273.4,202.1 273.5,200.1 273.6,202.2 273.7,200.2 273.8,198.5 273.9,199.2 274.0,195.4 274.1,197.0 274.2,200.4 274.3,202.4 274.4,203.1 274.5,200.9 274.6,206.5 274.7,204.4 274.8,207.3 274.9,206.5 275.0,211.7 275.1,209.1 275.2,210.9 275.3,211.0 275.4,208.7 275.5,212.0 275.6,213.9 275.7,210.7 275.8,210.9 275.9,214.8 276.0,212.4 276.1,213.0 276.2,210.3 276.3,214.3 276.4,211.9 276.5,211.5 276.6,212.0 276.7,211.1 276.8,210.9 276.9,213.9 277.0,211.4 277.1,212.7 277.2,216.3 277.3,217.1 277.4,213.6 277.5,215.2 277.6,212.5 277.7,212.5 277.8,215.6 277.9,214.7 278.0,215.2 278.1,213.8 278.2,214.2 278.3,215.4 278.4,214.3 278.5,217.8 278.6,213.8 278.7,212.8 278.8,212.2 278.9,216.2 279.0,217.4 279.1,216.0 279.2,214.6 279.3,214.5 279.4,213.4 279.5,214.0 279.6,215.8 279.7,216.7 279.8,218.0 279.9,218.0 280.0,217.4 280.1,215.3 280.2,216.7 280.3,217.4 280.4,216.6 280.5,214.1 280.6,217.1 280.7,214.4 280.8,217.4 280.9,216.2 281.0,213.1 281.1,215.4 281.2,218.4 281.3,214.9 281.4,215.6 281.5,216.1 281.6,213.9 281.7,212.4 281.8,213.9 281.9,214.7 282.0,217.0 282.1,217.9 282.2,216.7 282.3,215.4 282.4,214.7 282.5,216.0 282.6,212.6 282.7,213.8 282.8,214.9 282.9,217.5 283.0,213.5 283.1,216.3 283.2,214.0 283.3,214.9 283.4,213.0 283.5,213.7 283.6,216.8 283.7,213.4 283.8,216.3 283.9,216.6 284.0,214.4 284.1,216.5 284.2,213.5 284.3,214.5 284.4,212.9 284.5,214.0 284.6,215.3 284.7,214.6 284.8,216.6 284.9,215.4 285.0,216.2 285.1,210.9 285.2,213.4 285.3,216.0 285.4,210.9 285.5,219.7 285.6,214.9 285.7,215.9 285.8,216.5 285.9,216.4 286.0,215.3 286.1,212.7 286.2,214.0 286.3,213.2 286.4,213.4 286.5,214.0 286.6,217.7 286.7,214.9 286.8,214.5 286.9,216.6 287.0,216.0 287.1,214.3 287.2,216.0 287.3,216.0 287.4,216.5 287.5,216.8 287.6,214.8 287.7,216.1 287.8,217.1 287.9,215.8 288.0,215.9 288.1,215.8 288.2,216.0 288.3,213.9 288.4,214.9 288.5,214.1 288.6,213.4 288.7,217.8 288.8,214.3 288.9,215.0 289.0,217.1 289.1,214.2 289.2,215.1 289.3,217.6 289.4,214.6 289.5,215.1 289.6,217.1 289.7,213.2 289.8,215.4 289.9,216.3 290.0,217.5 290.1,217.3 290.2,216.7 290.3,214.1 290.4,215.3 290.5,216.1 290.6,215.9 290.7,215.4 290.8,215.9 290.9,214.6 291.0,216.0 291.1,213.2 291.2,215.9 291.3,216.8 291.4,217.1 291.5,214.7 291.6,215.2 291.7,216.2 291.8,214.5 291.9,216.5 292.0,212.1 292.1,216.9 292.2,215.3 292.3,214.1 292.4,215.3 292.5,216.7 292.6,216.5 292.7,215.5 292.8,216.4 292.9,213.1 293.0,215.2 293.1,214.7 293.2,215.8 293.3,215.9 293.4,215.1 293.5,214.6 293.6,213.6 293.7,214.3 293.8,218.4 293.9,213.7 294.0,215.8 294.1,216.9 294.2,216.6 294.3,214.3 294.4,218.0 294.5,215.1 294.6,216.4 294.7,215.1 294.8,213.7 294.9,215.0 295.0,215.4 295.1,214.7 295.2,215.6 295.3,214.3 295.4,212.5 295.5,215.6 295.6,214.6 295.7,217.1 295.8,214.7 295.9,213.0 296.0,212.3 296.1,217.2 296.2,212.9 296.3,214.6 296.4,215.2 296.5,217.3 296.6,213.7 296.7,216.8 296.8,216.0 296.9,218.0 297.0,216.4 297.1,213.8 297.2,215.9 297.3,217.4 297.4,213.8 297.5,216.3 297.6,214.9 297.7,216.3 297.8,216.7 297.9,212.6 298.0,214.6 298.1,214.7 298.2,215.4 298.3,216.6 298.4,215.6 298.5,218.3 298.6,213.9 298.7,215.4 298.8,214.8 298.9,218.0 299.0,216.0 299.1,217.2 299.2,215.7 299.3,212.7 299.4,216.0 299.5,214.0 299.6,215.1 299.7,215.4 299.8,213.8 299.9,216.1 300.0,215.5 300.1,214.3 300.2,213.9 300.3,215.8 300.4,216.4 300.5,215.4 300.6,215.1 300.7,214.6 300.8,214.4 300.9,215.7 301.0,214.8 301.1,214.9 301.2,215.5 301.3,213.3 301.4,217.2 301.5,215.5 301.6,211.3 301.7,217.1 301.8,215.4 301.9,217.1 302.0,214.6 302.1,214.9 302.2,216.5 302.3,213.1 302.4,217.7 302.5,215.3 302.6,213.5 302.7,213.7 302.8,213.7 302.9,211.8 303.0,213.2 303.1,214.7 303.2,211.9 303.3,211.6 303.4,212.0 303.5,211.3 303.6,212.2 303.7,211.2 303.8,210.8 303.9,213.6 304.0,211.1 304.1,211.5 304.2,212.2 304.3,211.8 304.4,212.8 304.5,212.7 304.6,211.8 304.7,215.3 304.8,213.3 304.9,214.8 305.0,215.3 305.1,216.1 305.2,214.7 305.3,214.5 305.4,214.8 305.5,215.3 305.6,216.3 305.7,215.9 305.8,214.5 305.9,216.8 306.0,218.0 306.1,213.5 306.2,215.3 306.3,216.7 306.4,214.6 306.5,216.9 306.6,218.6 306.7,214.0 306.8,214.6 306.9,217.2 307.0,216.8 307.1,215.8 307.2,213.9 307.3,212.8 307.4,217.0 307.5,213.9 307.6,215.3 307.7,213.4 307.8,215.7 307.9,215.7 308.0,215.3 308.1,214.0 308.2,216.0 308.3,215.6 308.4,215.7 308.5,214.2 308.6,215.1 308.7,214.9 308.8,213.8 308.9,215.5 309.0,218.4 309.1,215.8 309.2,214.3 309.3,214.6 309.4,214.6 309.5,215.5 309.6,215.1 309.7,213.8 309.8,211.2 309.9,212.5 310.0,210.7 310.1,210.2 310.2,211.3 310.3,208.0 310.4,207.4 310.5,206.3 310.6,205.4 310.7,205.8 310.8,204.5 310.9,206.1 311.0,202.6 311.1,203.1 311.2,201.4 311.3,203.0 311.4,202.5 311.5,202.5 311.6,205.3 311.7,202.4 311.8,203.7 311.9,202.5 312.0,205.1 312.1,202.5 312.2,205.0 312.3,205.7 312.4,208.0 312.5,206.2 312.6,208.4 312.7,211.3 312.8,209.8 312.9,210.7 313.0,211.4 313.1,210.9 313.2,212.6 313.3,214.1 313.4,214.8 313.5,216.3 313.6,213.9 313.7,212.8 313.8,214.7 313.9,216.2 314.0,214.0 314.1,217.2 314.2,216.9 314.3,216.8 314.4,215.5 314.5,215.7 314.6,214.1 314.7,217.4 314.8,216.9 314.9,214.6 315.0,213.4 315.1,215.9 315.2,216.5 315.3,215.2 315.4,215.1 315.5,216.5 315.6,218.2 315.7,217.5 315.8,215.4 315.9,216.3 316.0,213.4 316.1,216.7 316.2,214.6 316.3,216.5 316.4,216.3 316.5,213.9 316.6,214.3 316.7,218.5 316.8,216.7 316.9,216.5 317.0,216.9 317.1,214.8 317.2,214.1 317.3,214.0 317.4,213.5 317.5,212.9 317.6,211.7 317.7,216.0 317.8,213.0 317.9,212.9 318.0,215.9 318.1,215.6 318.2,213.3 318.3,216.1 318.4,214.4 318.5,214.4 318.6,213.9 318.7,216.9 318.8,215.1 318.9,219.1 319.0,217.5 319.1,217.9 319.2,212.3 319.3,214.6 319.4,216.0 319.5,214.7 319.6,215.8 319.7,217.2 319.8,216.4 319.9,213.6 320.0,214.2" fill="none" stroke="#f80c0c" stroke-width="1.15" stroke-linejoin="round"/>
<polyline points="374.9,204.5 375.0,204.3 375.1,205.7 375.2,208.7 375.3,202.6 375.4,205.5 375.5,204.9 375.6,205.6 375.7,204.2 375.8,202.9 375.9,206.9 376.0,204.6 376.1,203.2 376.2,204.9 376.3,207.7 376.4,204.5 376.5,206.5 376.6,205.8 376.7,204.6 376.8,206.5 376.9,202.7 377.0,206.3 377.1,203.3 377.2,206.4 377.3,205.2 377.4,205.9 377.5,205.9 377.6,206.8 377.7,205.6 377.8,205.9 377.9,203.7 378.0,204.5 378.1,208.1 378.2,207.1 378.3,206.2 378.4,205.3 378.5,206.6 378.6,206.6 378.7,202.5 378.8,207.4 378.9,204.8 379.0,206.5 379.1,211.5 379.2,204.5 379.3,206.4 379.4,206.7 379.5,207.8 379.6,208.2 379.7,205.6 379.8,208.5 379.9,204.6 380.0,206.9 380.1,206.6 380.2,206.0 380.3,203.9 380.4,209.9 380.5,206.9 380.6,206.4 380.7,207.5 380.8,208.3 380.9,206.6 381.0,206.8 381.1,205.3 381.2,206.1 381.3,208.3 381.4,208.8 381.5,206.5 381.6,206.5 381.7,207.7 381.8,203.0 381.9,208.7 382.0,208.8 382.1,206.9 382.2,206.4 382.3,206.1 382.4,208.3 382.5,210.1 382.6,208.0 382.7,206.2 382.8,206.2 382.9,203.7 383.0,208.1 383.1,206.6 383.2,209.0 383.3,206.4 383.4,205.5 383.5,204.7 383.6,206.5 383.7,205.9 383.8,208.6 383.9,207.8 384.0,207.1 384.1,209.9 384.2,205.8 384.3,206.6 384.4,206.5 384.5,206.4 384.6,204.5 384.7,209.5 384.8,207.5 384.9,203.9 385.0,204.6 385.1,206.9 385.2,204.1 385.3,206.3 385.4,207.7 385.5,207.5 385.6,206.1 385.7,206.3 385.8,206.1 385.9,209.5 386.0,207.7 386.1,205.3 386.2,208.3 386.3,206.8 386.4,206.6 386.5,206.9 386.6,208.9 386.7,206.6 386.8,206.6 386.9,208.6 387.0,205.5 387.1,207.5 387.2,205.8 387.3,207.2 387.4,208.3 387.5,207.0 387.6,206.8 387.7,206.1 387.8,208.6 387.9,207.9 388.0,209.5 388.1,205.4 388.2,204.8 388.3,208.2 388.4,206.7 388.5,204.1 388.6,208.1 388.7,208.3 388.8,207.7 388.9,206.4 389.0,205.9 389.1,210.8 389.2,205.8 389.3,207.5 389.4,208.4 389.5,206.5 389.6,208.5 389.7,208.3 389.8,211.2 389.9,208.9 390.0,207.0 390.1,207.1 390.2,208.7 390.3,207.0 390.4,205.1 390.5,207.5 390.6,208.2 390.7,204.2 390.8,207.1 390.9,206.4 391.0,209.3 391.1,206.8 391.2,208.6 391.3,207.7 391.4,206.9 391.5,207.0 391.6,207.3 391.7,206.8 391.8,205.9 391.9,206.3 392.0,205.7 392.1,206.4 392.2,205.9 392.3,207.5 392.4,207.7 392.5,205.7 392.6,211.4 392.7,209.2 392.8,208.8 392.9,206.6 393.0,209.0 393.1,206.0 393.2,206.5 393.3,208.1 393.4,208.8 393.5,207.4 393.6,206.0 393.7,207.5 393.8,207.0 393.9,211.0 394.0,206.5 394.1,204.9 394.2,206.0 394.3,204.3 394.4,208.4 394.5,209.8 394.6,206.8 394.7,207.1 394.8,203.9 394.9,208.1 395.0,206.8 395.1,208.0 395.2,207.4 395.3,208.1 395.4,209.5 395.5,208.2 395.6,206.5 395.7,209.4 395.8,209.5 395.9,208.3 396.0,208.4 396.1,209.9 396.2,206.9 396.3,209.7 396.4,208.8 396.5,204.9 396.6,208.4 396.7,209.6 396.8,206.1 396.9,209.1 397.0,210.0 397.1,205.4 397.2,204.1 397.3,207.7 397.4,205.9 397.5,207.3 397.6,206.7 397.7,204.9 397.8,204.4 397.9,207.5 398.0,208.9 398.1,206.8 398.2,206.0 398.3,209.5 398.4,208.3 398.5,207.0 398.6,210.0 398.7,205.6 398.8,206.2 398.9,210.6 399.0,213.5 399.1,207.5 399.2,210.6 399.3,206.8 399.4,206.5 399.5,205.8 399.6,208.8 399.7,207.7 399.8,208.8 399.9,210.1 400.0,208.5 400.1,204.8 400.2,209.5 400.3,209.7 400.4,207.7 400.5,205.3 400.6,210.2 400.7,208.5 400.8,208.6 400.9,206.2 401.0,205.9 401.1,204.7 401.2,208.2 401.3,206.5 401.4,207.2 401.5,207.2 401.6,209.8 401.7,206.9 401.8,207.3 401.9,209.6 402.0,207.3 402.1,207.7 402.2,206.5 402.3,208.4 402.4,208.4 402.5,207.1 402.6,207.6 402.7,206.5 402.8,208.9 402.9,211.2 403.0,207.5 403.1,207.9 403.2,205.1 403.3,205.4 403.4,206.6 403.5,208.7 403.6,207.9 403.7,210.9 403.8,209.3 403.9,207.3 404.0,209.1 404.1,204.5 404.2,206.3 404.3,205.2 404.4,208.2 404.5,205.4 404.6,207.9 404.7,208.8 404.8,206.4 404.9,207.3 405.0,210.7 405.1,206.7 405.2,207.9 405.3,208.8 405.4,206.7 405.5,207.7 405.6,206.8 405.7,205.1 405.8,207.7 405.9,204.3 406.0,209.7 406.1,207.6 406.2,208.3 406.3,207.5 406.4,207.9 406.5,208.5 406.6,209.0 406.7,205.5 406.8,208.1 406.9,206.8 407.0,208.4 407.1,203.8 407.2,205.9 407.3,207.0 407.4,208.8 407.5,203.9 407.6,207.1 407.7,204.8 407.8,207.1 407.9,206.2 408.0,206.2 408.1,204.0 408.2,209.0 408.3,208.3 408.4,208.1 408.5,208.4 408.6,207.6 408.7,206.3 408.8,205.2 408.9,207.9 409.0,208.5 409.1,207.9 409.2,210.0 409.3,208.4 409.4,210.0 409.5,208.1 409.6,206.9 409.7,207.9 409.8,207.2 409.9,207.8 410.0,207.2 410.1,205.6 410.2,206.2 410.3,206.7 410.4,205.7 410.5,206.2 410.6,204.6 410.7,204.1 410.8,207.1 410.9,209.8 411.0,203.8 411.1,206.0 411.2,206.6 411.3,205.7 411.4,203.9 411.5,207.6 411.6,207.9 411.7,203.7 411.8,206.8 411.9,207.9 412.0,206.3 412.1,207.2 412.2,207.7 412.3,207.5 412.4,206.3 412.5,206.5 412.6,206.5 412.7,206.3 412.8,206.6 412.9,205.6 413.0,205.5 413.1,209.4 413.2,207.2 413.3,205.4 413.4,205.5 413.5,206.8 413.6,210.0 413.7,206.7 413.8,205.8 413.9,207.3 414.0,205.6 414.1,210.6 414.2,205.7 414.3,203.8 414.4,202.8 414.5,207.6 414.6,208.6 414.7,203.0 414.8,207.0 414.9,207.1 415.0,207.3 415.1,207.0 415.2,206.8 415.3,205.1 415.4,208.7 415.5,206.3 415.6,205.7 415.7,206.2 415.8,205.7 415.9,206.5 416.0,206.4 416.1,206.0 416.2,206.2 416.3,206.1 416.4,203.9 416.5,203.5 416.6,210.5 416.7,207.3 416.8,208.0 416.9,207.6 417.0,206.0 417.1,205.8 417.2,206.4 417.3,205.3 417.4,204.9 417.5,207.7 417.6,205.0 417.7,202.9 417.8,207.5 417.9,206.6 418.0,204.5 418.1,206.0 418.2,204.8 418.3,207.4 418.4,203.5 418.5,207.6 418.6,204.5 418.7,207.1 418.8,205.7 418.9,206.2 419.0,207.1 419.1,204.8 419.2,206.2 419.3,204.8 419.4,206.2 419.5,205.6 419.6,206.0 419.7,205.2 419.8,207.9 419.9,205.7 420.0,204.4 420.1,206.5 420.2,204.6 420.3,202.9 420.4,206.8 420.5,206.3 420.6,205.4 420.7,205.6 420.8,204.3 420.9,208.3 421.0,204.5 421.1,204.1 421.2,205.7 421.3,206.9 421.4,205.5 421.5,203.8 421.6,206.2 421.7,202.7 421.8,202.9 421.9,205.6 422.0,203.9 422.1,208.0 422.2,204.4 422.3,206.5 422.4,204.4 422.5,205.6 422.6,204.8 422.7,204.4 422.8,208.8 422.9,208.3 423.0,207.4 423.1,207.4 423.2,203.9 423.3,205.6 423.4,202.8 423.5,205.7 423.6,207.0 423.7,206.7 423.8,204.8 423.9,204.9 424.0,206.8 424.1,205.1 424.2,200.1 424.3,204.0 424.4,204.2 424.5,204.6 424.6,204.9 424.7,206.7 424.8,204.3 424.9,205.4 425.0,206.3 425.1,203.6 425.2,204.0 425.3,207.4 425.4,206.8 425.5,203.9 425.6,203.9 425.7,204.4 425.8,204.1 425.9,203.9 426.0,206.9 426.1,207.0 426.2,204.3 426.3,204.1 426.4,206.8 426.5,204.6 426.6,203.3 426.7,205.4 426.8,205.0 426.9,206.0 427.0,207.9 427.1,207.8 427.2,206.3 427.3,203.6 427.4,206.2 427.5,204.6 427.6,204.0 427.7,202.6 427.8,200.7 427.9,204.0 428.0,205.8 428.1,201.5 428.2,205.5 428.3,205.1 428.4,204.2 428.5,206.5 428.6,204.6 428.7,202.2 428.8,206.3 428.9,205.3 429.0,205.8 429.1,206.5 429.2,205.3 429.3,207.7 429.4,208.5 429.5,205.5 429.6,206.9 429.7,200.9 429.8,207.8 429.9,204.9 430.0,207.2 430.1,203.8 430.2,206.1 430.3,205.9 430.4,203.0 430.5,204.4 430.6,208.0 430.7,203.3 430.8,201.6 430.9,205.9 431.0,205.5 431.1,208.6 431.2,204.5 431.3,207.9 431.4,204.8 431.5,208.3 431.6,205.4 431.7,205.6 431.8,204.1 431.9,206.9 432.0,205.4 432.1,208.2 432.2,206.0 432.3,204.1 432.4,207.7 432.5,206.2 432.6,208.1 432.7,206.6 432.8,204.3 432.9,204.8 433.0,205.1 433.1,206.2 433.2,203.1 433.3,207.2 433.4,207.4 433.5,205.0 433.6,204.7 433.7,205.2 433.8,203.9 433.9,205.4 434.0,206.4 434.1,206.4 434.2,204.3 434.3,206.7 434.4,205.7 434.5,206.3 434.6,204.9 434.7,203.8 434.8,205.0 434.9,203.0 435.0,205.0 435.1,205.8 435.2,203.7 435.3,206.6 435.4,205.0 435.5,206.7 435.6,205.6 435.7,204.8 435.8,205.5 435.9,204.8 436.0,203.6 436.1,202.9 436.2,204.3 436.3,205.7 436.4,207.5 436.5,204.3 436.6,203.1 436.7,206.0 436.8,205.1 436.9,206.5 437.0,208.4 437.1,204.4 437.2,204.0 437.3,206.6 437.4,205.8 437.5,207.1 437.6,203.8 437.7,203.6 437.8,202.8 437.9,203.7 438.0,205.6 438.1,205.5 438.2,205.4 438.3,203.0 438.4,207.5 438.5,204.9 438.6,205.9 438.7,205.6 438.8,204.2 438.9,201.6 439.0,203.2 439.1,205.8 439.2,206.7 439.3,203.5 439.4,204.6 439.5,205.8 439.6,205.4 439.7,203.4 439.8,204.9 439.9,203.2 440.0,202.7 440.1,204.0 440.2,205.1 440.3,203.8 440.4,204.8 440.5,204.9 440.6,205.8 440.7,203.3 440.8,203.5 440.9,202.9 441.0,208.1 441.1,206.1 441.2,204.0 441.3,204.3 441.4,207.6 441.5,205.4 441.6,206.5 441.7,205.9 441.8,204.9 441.9,207.3 442.0,203.5 442.1,206.0 442.2,205.2 442.3,206.7 442.4,201.9 442.5,204.0 442.6,205.5 442.7,202.9 442.8,204.4 442.9,205.8 443.0,207.6 443.1,203.7 443.2,203.9 443.3,204.4 443.4,204.8 443.5,205.0 443.6,203.5 443.7,204.8 443.8,205.0 443.9,201.8 444.0,203.7 444.1,203.2 444.2,204.5 444.3,202.4 444.4,200.0 444.5,204.0 444.6,202.1 444.7,205.1 444.8,199.7 444.9,201.0 445.0,201.5 445.1,201.6 445.2,202.0 445.3,203.4 445.4,199.7 445.5,201.2 445.6,203.4 445.7,201.7 445.8,200.2 445.9,202.2 446.0,198.7 446.1,198.2 446.2,201.0 446.3,196.7 446.4,198.8 446.5,200.5 446.6,198.3 446.7,196.7 446.8,195.6 446.9,197.9 447.0,198.3 447.1,196.8 447.2,195.7 447.3,194.3 447.4,198.3 447.5,195.3 447.6,196.7 447.7,195.5 447.8,194.4 447.9,194.8 448.0,193.9 448.1,193.3 448.2,193.5 448.3,191.2 448.4,193.6 448.5,193.0 448.6,191.8 448.7,191.6 448.8,193.2 448.9,190.1 449.0,189.4 449.1,189.3 449.2,184.8 449.3,187.3 449.4,188.5 449.5,184.7 449.6,189.7 449.7,185.5 449.8,186.5 449.9,185.2 450.0,184.7 450.1,184.6 450.2,183.1 450.3,182.4 450.4,182.9 450.5,183.9 450.6,179.4 450.7,183.3 450.8,177.4 450.9,180.5 451.0,176.8 451.1,168.1 451.2,158.7 451.3,143.8 451.4,125.3 451.5,99.7 451.6,73.7 451.7,51.0 451.8,29.1 451.9,23.5 452.0,31.1 452.1,48.6 452.2,71.2 452.3,99.9 452.4,124.4 452.5,145.7 452.6,157.5 452.7,168.8 452.8,174.0 452.9,178.1 453.0,180.0 453.1,179.1 453.2,182.1 453.3,181.3 453.4,181.5 453.5,183.2 453.6,183.2 453.7,182.4 453.8,180.4 453.9,185.3 454.0,186.1 454.1,186.2 454.2,186.1 454.3,187.5 454.4,185.2 454.5,188.7 454.6,189.3 454.7,188.7 454.8,187.1 454.9,185.0 455.0,188.0 455.1,188.4 455.2,189.1 455.3,190.3 455.4,189.5 455.5,191.3 455.6,189.4 455.7,192.4 455.8,192.0 455.9,193.5 456.0,191.7 456.1,192.9 456.2,193.8 456.3,195.5 456.4,195.6 456.5,193.7 456.6,195.8 456.7,195.2 456.8,192.4 456.9,194.5 457.0,195.8 457.1,196.6 457.2,197.0 457.3,195.6 457.4,196.1 457.5,198.4 457.6,198.1 457.7,196.3 457.8,199.0 457.9,199.8 458.0,198.1 458.1,200.4 458.2,197.9 458.3,197.5 458.4,198.8 458.5,197.4 458.6,201.7 458.7,200.5 458.8,201.3 458.9,201.1 459.0,199.5 459.1,200.2 459.2,199.5 459.3,203.0 459.4,197.7 459.5,202.7 459.6,200.6 459.7,199.9 459.8,201.9 459.9,201.8 460.0,201.4 460.1,201.4 460.2,200.5 460.3,199.5 460.4,203.0 460.5,201.2 460.6,202.3 460.7,205.1 460.8,202.1 460.9,203.3 461.0,203.7 461.1,201.0 461.2,204.8 461.3,202.5 461.4,201.1 461.5,201.0 461.6,202.1 461.7,204.9 461.8,202.8 461.9,203.9 462.0,204.7 462.1,205.1 462.2,207.8 462.3,204.4 462.4,202.8 462.5,205.5 462.6,206.1 462.7,204.0 462.8,205.7 462.9,204.5 463.0,204.8 463.1,202.6 463.2,204.0 463.3,205.0 463.4,206.1 463.5,204.6 463.6,207.3 463.7,205.3 463.8,207.0 463.9,205.5 464.0,209.4 464.1,206.0 464.2,206.3 464.3,205.6 464.4,207.7 464.5,206.3 464.6,206.6 464.7,207.0 464.8,206.7 464.9,204.9 465.0,207.6 465.1,208.9 465.2,208.1 465.3,205.2 465.4,207.5 465.5,207.7 465.6,207.4 465.7,206.0 465.8,207.1 465.9,206.2 466.0,207.6 466.1,207.0 466.2,206.4 466.3,206.5 466.4,209.6 466.5,207.2 466.6,206.4 466.7,209.7 466.8,208.3 466.9,206.6 467.0,208.8 467.1,210.3 467.2,207.0 467.3,209.4 467.4,210.6 467.5,210.0 467.6,207.8 467.7,206.3 467.8,209.1 467.9,208.9 468.0,209.6 468.1,208.6 468.2,207.8 468.3,210.1 468.4,207.8 468.5,208.8 468.6,208.7 468.7,212.7 468.8,208.9 468.9,210.4 469.0,208.3 469.1,210.0 469.2,207.6 469.3,210.4 469.4,210.6 469.5,209.7 469.6,210.4 469.7,209.7 469.8,210.7 469.9,211.3 470.0,211.8 470.1,209.8 470.2,213.0 470.3,210.5 470.4,209.3 470.5,210.8 470.6,209.4 470.7,210.6 470.8,210.3 470.9,210.6 471.0,211.3 471.1,211.8 471.2,211.2 471.3,210.9 471.4,209.7 471.5,210.5 471.6,211.0 471.7,211.8 471.8,208.5 471.9,210.1 472.0,209.1 472.1,208.9 472.2,210.4 472.3,209.0 472.4,209.2 472.5,210.3 472.6,207.4 472.7,213.7 472.8,208.7 472.9,210.1 473.0,212.6 473.1,210.1 473.2,211.8 473.3,210.3 473.4,210.3 473.5,210.2 473.6,210.9 473.7,210.8 473.8,211.0 473.9,211.6 474.0,212.8 474.1,210.6 474.2,211.1 474.3,210.7 474.4,212.9 474.5,210.9 474.6,209.8 474.7,213.9 474.8,211.5 474.9,210.2 475.0,210.2 475.1,214.3 475.2,210.9 475.3,214.3 475.4,210.9 475.5,212.9 475.6,211.5 475.7,213.7 475.8,210.7 475.9,210.1 476.0,210.8 476.1,213.8 476.2,211.4 476.3,210.9 476.4,211.0 476.5,212.2 476.6,211.6 476.7,212.3 476.8,212.4 476.9,212.1 477.0,213.5 477.1,211.3 477.2,212.7 477.3,212.2 477.4,211.5 477.5,214.6 477.6,212.6 477.7,213.0 477.8,211.5 477.9,212.4 478.0,212.4 478.1,212.0 478.2,211.8 478.3,211.9 478.4,214.2 478.5,210.8 478.6,213.7 478.7,212.9 478.8,210.5 478.9,211.9 479.0,211.1 479.1,210.4 479.2,212.9 479.3,210.0 479.4,212.1 479.5,212.0 479.6,212.2 479.7,212.6 479.8,211.1 479.9,211.9 480.0,211.3 480.1,212.6 480.2,211.9 480.3,212.9 480.4,210.9 480.5,209.4 480.6,210.2 480.7,208.9 480.8,210.1 480.9,209.9 481.0,210.3 481.1,212.4 481.2,213.2 481.3,211.9 481.4,208.8 481.5,210.4 481.6,211.8 481.7,210.8 481.8,211.9 481.9,210.8 482.0,208.3 482.1,212.3 482.2,208.0 482.3,210.9 482.4,208.9 482.5,211.7 482.6,208.8 482.7,208.5 482.8,209.5 482.9,211.1 483.0,208.7 483.1,212.1 483.2,209.0 483.3,209.7 483.4,208.9 483.5,209.5 483.6,208.4 483.7,208.6 483.8,207.6 483.9,209.2 484.0,209.6 484.1,208.5 484.2,207.0 484.3,208.5 484.4,208.8 484.5,208.3 484.6,208.4 484.7,208.4 484.8,207.3 484.9,208.0 485.0,206.9 485.1,209.8 485.2,206.6 485.3,207.1 485.4,208.9 485.5,205.7 485.6,205.4 485.7,207.9 485.8,206.1 485.9,208.2 486.0,206.5 486.1,206.1 486.2,207.8 486.3,206.8 486.4,206.6 486.5,207.5 486.6,207.8 486.7,208.9 486.8,205.9 486.9,204.5 487.0,207.7 487.1,207.0 487.2,207.2 487.3,207.4 487.4,204.9 487.5,202.1 487.6,206.0 487.7,203.9 487.8,204.8 487.9,205.2 488.0,207.1 488.1,204.3 488.2,204.6 488.3,205.1 488.4,204.8 488.5,203.9 488.6,203.5 488.7,203.2 488.8,202.4 488.9,204.7 489.0,203.9 489.1,201.7 489.2,201.7 489.3,201.0 489.4,202.3 489.5,199.6 489.6,200.4 489.7,197.3 489.8,194.8 489.9,193.8 490.0,190.1 490.1,185.4 490.2,181.7 490.3,176.2 490.4,172.1 490.5,163.2 490.6,157.8 490.7,149.4 490.8,142.2 490.9,132.3 491.0,126.8 491.1,119.2 491.2,110.5 491.3,106.0 491.4,108.9 491.5,103.8 491.6,104.3 491.7,107.7 491.8,111.1 491.9,119.1 492.0,127.2 492.1,132.7 492.2,141.5 492.3,148.8 492.4,157.0 492.5,162.8 492.6,172.1 492.7,177.1 492.8,183.4 492.9,189.1 493.0,189.3 493.1,192.2 493.2,195.1 493.3,195.6 493.4,199.0 493.5,198.3 493.6,199.6 493.7,201.7 493.8,201.4 493.9,201.0 494.0,201.4 494.1,203.8 494.2,202.2 494.3,203.8 494.4,204.6 494.5,204.5 494.6,205.3 494.7,202.5 494.8,203.0 494.9,205.0 495.0,205.0 495.1,204.2 495.2,204.6 495.3,204.3 495.4,206.5 495.5,205.5 495.6,206.3 495.7,207.0 495.8,205.8 495.9,206.3 496.0,205.5 496.1,207.5 496.2,209.5 496.3,205.1 496.4,207.4 496.5,207.3 496.6,207.2 496.7,206.4 496.8,208.9 496.9,208.0 497.0,207.4 497.1,208.9 497.2,207.7 497.3,208.8 497.4,208.5 497.5,208.1 497.6,209.2 497.7,207.9 497.8,209.2 497.9,207.8 498.0,208.7 498.1,210.2 498.2,209.9 498.3,208.0 498.4,208.4 498.5,208.5 498.6,207.8 498.7,208.8 498.8,207.5 498.9,207.7 499.0,209.2 499.1,208.1 499.2,208.1 499.3,208.2 499.4,208.9 499.5,207.8 499.6,209.2 499.7,207.1 499.8,207.6 499.9,209.6 500.0,209.5 500.1,209.1 500.2,208.5 500.3,210.2 500.4,208.8 500.5,207.8 500.6,209.4 500.7,211.5 500.8,210.3 500.9,208.8 501.0,209.2 501.1,209.8 501.2,208.7 501.3,209.7 501.4,205.7 501.5,205.9 501.6,204.6 501.7,201.9 501.8,200.6 501.9,198.6 502.0,195.9 502.1,192.8 502.2,192.4 502.3,189.8 502.4,187.8 502.5,187.2 502.6,185.7 502.7,187.6 502.8,189.0 502.9,189.0 503.0,191.6 503.1,192.4 503.2,195.4 503.3,200.6 503.4,201.5 503.5,203.5 503.6,205.5 503.7,207.1 503.8,208.5 503.9,209.0 504.0,210.1 504.1,209.6 504.2,212.7 504.3,211.5 504.4,210.8 504.5,211.5 504.6,211.6 504.7,211.0 504.8,212.2 504.9,212.6 505.0,214.5 505.1,211.9 505.2,212.7 505.3,212.8 505.4,212.5 505.5,212.5 505.6,212.5 505.7,212.5 505.8,210.9 505.9,214.2 506.0,212.9 506.1,213.0 506.2,211.5 506.3,213.0 506.4,210.8 506.5,211.6 506.6,210.1 506.7,212.6 506.8,213.0 506.9,212.7 507.0,210.7 507.1,213.5 507.2,212.4 507.3,212.1 507.4,211.8 507.5,212.0 507.6,213.3 507.7,212.5 507.8,213.0 507.9,211.6 508.0,213.0 508.1,213.6 508.2,214.1 508.3,213.8 508.4,211.3 508.5,212.9 508.6,213.3 508.7,212.0 508.8,213.3 508.9,212.4 509.0,213.5 509.1,215.3 509.2,211.8 509.3,212.4 509.4,211.9 509.5,210.9 509.6,213.5 509.7,213.2 509.8,212.8 509.9,214.1 510.0,210.6 510.1,214.2 510.2,211.4 510.3,212.3 510.4,211.1 510.5,211.5 510.6,211.8 510.7,210.0 510.8,209.7 510.9,211.4 511.0,211.4 511.1,210.2 511.2,210.5 511.3,211.9 511.4,212.6 511.5,210.9 511.6,212.6 511.7,212.0 511.8,210.2 511.9,209.4 512.0,209.6 512.1,208.1 512.2,207.9 512.3,206.7 512.4,206.7 512.5,204.9 512.6,202.1 512.7,202.6 512.8,199.8 512.9,200.3 513.0,196.3 513.1,194.0 513.2,192.1 513.3,189.1 513.4,184.9 513.5,181.6 513.6,180.8 513.7,177.0 513.8,175.4 513.9,174.0 514.0,172.3 514.1,172.5 514.2,171.9 514.3,172.7 514.4,174.0 514.5,173.4 514.6,176.1 514.7,177.7 514.8,179.9 514.9,183.3 515.0,187.6 515.1,187.9 515.2,193.8 515.3,194.7 515.4,197.2 515.5,198.4 515.6,200.6 515.7,203.8 515.8,205.6 515.9,204.8 516.0,207.7 516.1,207.6 516.2,208.4 516.3,207.6 516.4,210.1 516.5,210.5 516.6,209.0 516.7,210.2 516.8,210.4 516.9,211.4 517.0,212.0 517.1,210.9 517.2,211.8 517.3,213.5 517.4,212.3 517.5,210.7 517.6,211.1 517.7,212.3 517.8,213.0 517.9,210.9 518.0,210.3 518.1,210.1 518.2,212.1 518.3,212.0 518.4,210.9 518.5,211.2 518.6,209.8 518.7,210.3 518.8,208.8 518.9,210.7 519.0,211.9 519.1,211.3 519.2,211.2 519.3,210.9 519.4,212.1 519.5,210.2 519.6,211.5 519.7,210.2 519.8,210.7 519.9,211.6 520.0,210.0 520.1,211.3 520.2,210.5 520.3,211.1 520.4,210.1 520.5,210.3 520.6,210.1 520.7,210.0 520.8,211.1 520.9,212.1 521.0,212.0 521.1,209.1 521.2,209.4 521.3,211.2 521.4,210.7 521.5,209.1 521.6,211.3 521.7,211.1 521.8,210.0 521.9,212.1 522.0,209.8 522.1,210.9 522.2,211.4 522.3,210.2 522.4,210.3 522.5,209.9 522.6,211.5 522.7,208.0 522.8,210.4 522.9,209.7 523.0,209.1 523.1,209.7 523.2,210.1 523.3,207.9 523.4,208.5 523.5,208.5 523.6,209.9 523.7,209.4 523.8,208.7 523.9,206.7 524.0,206.0 524.1,208.4 524.2,208.0 524.3,205.8 524.4,207.1 524.5,210.2 524.6,209.5 524.7,206.8 524.8,208.4 524.9,209.4 525.0,210.7 525.1,209.2 525.2,209.9 525.3,210.9 525.4,212.1 525.5,211.3 525.6,212.6 525.7,210.8 525.8,212.3 525.9,212.4 526.0,213.0 526.1,212.6 526.2,213.1 526.3,212.2 526.4,213.8 526.5,214.5 526.6,214.2 526.7,214.8 526.8,213.6 526.9,212.8 527.0,213.2 527.1,213.1 527.2,212.7 527.3,214.3 527.4,212.9 527.5,215.1 527.6,214.0 527.7,213.0 527.8,214.4 527.9,213.6 528.0,214.6 528.1,212.6 528.2,213.7 528.3,214.6 528.4,213.8 528.5,213.9 528.6,213.2 528.7,214.0 528.8,212.7 528.9,214.1 529.0,213.5 529.1,215.4 529.2,213.7 529.3,211.6 529.4,213.8 529.5,214.3 529.6,214.8 529.7,212.3 529.8,214.2 529.9,215.1 530.0,213.6 530.1,214.2 530.2,212.8 530.3,214.5 530.4,213.7 530.5,212.6 530.6,214.8 530.7,215.6 530.8,211.7 530.9,213.8 531.0,214.1 531.1,213.8 531.2,214.1 531.3,213.3 531.4,214.0 531.5,214.3 531.6,213.1 531.7,215.6 531.8,214.6 531.9,213.6 532.0,211.8 532.1,214.6 532.2,215.1 532.3,214.5 532.4,213.5 532.5,213.2 532.6,214.3 532.7,213.1 532.8,214.5 532.9,214.1 533.0,211.2 533.1,213.5 533.2,215.0 533.3,215.2 533.4,213.8 533.5,214.2 533.6,213.5 533.7,215.1 533.8,214.3 533.9,213.9 534.0,215.4 534.1,214.5 534.2,212.0 534.3,214.3 534.4,213.9 534.5,213.8 534.6,213.8 534.7,212.0 534.8,213.7 534.9,212.7 535.0,214.7 535.1,214.7 535.2,214.8 535.3,213.7 535.4,213.8 535.5,214.3 535.6,212.4 535.7,213.4 535.8,214.7 535.9,212.8 536.0,214.8 536.1,213.9 536.2,212.9 536.3,214.0 536.4,215.4 536.5,213.4 536.6,213.4 536.7,214.0 536.8,213.3 536.9,212.7 537.0,214.7 537.1,213.7 537.2,215.0 537.3,213.0 537.4,212.8 537.5,214.7 537.6,212.5 537.7,214.4 537.8,213.3 537.9,213.7 538.0,212.9 538.1,215.7 538.2,212.3 538.3,215.4 538.4,213.9 538.5,215.1 538.6,213.6 538.7,214.5 538.8,212.7 538.9,214.5 539.0,214.6 539.1,214.2 539.2,213.7 539.3,212.9 539.4,211.7 539.5,213.1 539.6,213.8 539.7,215.8 539.8,212.7 539.9,214.3 540.0,215.2 540.1,213.6 540.2,213.0 540.3,213.7 540.4,214.8 540.5,213.5 540.6,214.8 540.7,213.0 540.8,212.9 540.9,213.6 541.0,214.7 541.1,213.9 541.2,213.2 541.3,212.8 541.4,213.8 541.5,214.5 541.6,214.7 541.7,214.0 541.8,214.9 541.9,214.1 542.0,211.5 542.1,213.7 542.2,214.2 542.3,214.9 542.4,214.2 542.5,212.9 542.6,212.3 542.7,213.9 542.8,214.2 542.9,212.9 543.0,213.8 543.1,213.8 543.2,213.3 543.3,213.1 543.4,215.3 543.5,213.6 543.6,213.5 543.7,212.6 543.8,213.4 543.9,213.0 544.0,213.8 544.1,214.0 544.2,212.5 544.3,213.6 544.4,214.3 544.5,214.5 544.6,213.1 544.7,212.5 544.8,214.3 544.9,214.7 545.0,215.0 545.1,213.6 545.2,213.3 545.3,213.3 545.4,213.0 545.5,214.8 545.6,213.2 545.7,214.0 545.8,212.8 545.9,214.0 546.0,214.9 546.1,215.7 546.2,211.6 546.3,212.8 546.4,212.2 546.5,211.7 546.6,214.2 546.7,213.4 546.8,214.9 546.9,213.6 547.0,213.0 547.1,213.3 547.2,214.1 547.3,213.5 547.4,214.4 547.5,214.5 547.6,214.6 547.7,213.8 547.8,214.3 547.9,213.7 548.0,211.5 548.1,212.0 548.2,212.4 548.3,212.0 548.4,214.1 548.5,212.2 548.6,214.5 548.7,214.0 548.8,212.6 548.9,213.9 549.0,212.2 549.1,212.4 549.2,212.5 549.3,213.4 549.4,213.5 549.5,213.4 549.6,212.2 549.7,211.6 549.8,212.2 549.9,213.2 550.0,212.9 550.1,213.0 550.2,213.1 550.3,214.1 550.4,214.7 550.5,213.5 550.6,212.4 550.7,213.1 550.8,211.6 550.9,213.7 551.0,212.9 551.1,213.8 551.2,212.4 551.3,213.5 551.4,212.5 551.5,212.7 551.6,214.5 551.7,214.5 551.8,213.5 551.9,212.9 552.0,212.6 552.1,211.7 552.2,212.4 552.3,213.7 552.4,212.8 552.5,213.2 552.6,212.9 552.7,215.2 552.8,214.9 552.9,214.3 553.0,213.0 553.1,213.1 553.2,213.4 553.3,211.1 553.4,213.6 553.5,213.3 553.6,213.1 553.7,212.6 553.8,212.9 553.9,213.1 554.0,212.6 554.1,214.1 554.2,213.0 554.3,213.5 554.4,212.2 554.5,213.5 554.6,213.3 554.7,214.0 554.8,212.2 554.9,213.6 555.0,211.2 555.1,211.6 555.2,211.1 555.3,211.8 555.4,212.4 555.5,213.6 555.6,213.1 555.7,212.4 555.8,213.7 555.9,212.2 556.0,213.1 556.1,213.5 556.2,212.3 556.3,211.6 556.4,211.5 556.5,214.2 556.6,211.9 556.7,212.7 556.8,214.0 556.9,213.6 557.0,212.1 557.1,212.5 557.2,213.9 557.3,211.6 557.4,212.6 557.5,213.7 557.6,212.7 557.7,213.0 557.8,212.1 557.9,211.5 558.0,211.4 558.1,213.1 558.2,212.3 558.3,212.4 558.4,213.4 558.5,213.0 558.6,213.0 558.7,211.7 558.8,212.7 558.9,212.0 559.0,212.7 559.1,211.8 559.2,210.2 559.3,213.0 559.4,212.8 559.5,212.8 559.6,211.4 559.7,210.5 559.8,212.8 559.9,210.6 560.0,212.6 560.1,212.7 560.2,211.9 560.3,211.3 560.4,213.0 560.5,212.0 560.6,211.5 560.7,211.9 560.8,212.1 560.9,212.2 561.0,214.4 561.1,211.2 561.2,211.7 561.3,211.8 561.4,211.7 561.5,211.1 561.6,211.5 561.7,210.6 561.8,211.2 561.9,213.1 562.0,212.5 562.1,211.8 562.2,212.1 562.3,210.7 562.4,211.7 562.5,210.4 562.6,210.2 562.7,211.1 562.8,211.3 562.9,212.3 563.0,209.4 563.1,210.1 563.2,211.0 563.3,210.1 563.4,211.6 563.5,210.9 563.6,209.8 563.7,207.8 563.8,209.7 563.9,211.0 564.0,210.7 564.1,208.6 564.2,209.0 564.3,209.7 564.4,209.7 564.5,209.1 564.6,207.2 564.7,209.6 564.8,209.2 564.9,208.1 565.0,210.6 565.1,207.7 565.2,209.5 565.3,207.1 565.4,206.9 565.5,207.0 565.6,206.2 565.7,207.9 565.8,206.2 565.9,207.9 566.0,208.2 566.1,206.0 566.2,207.5 566.3,203.8 566.4,206.5 566.5,206.8 566.6,205.7 566.7,205.6 566.8,205.0 566.9,205.8 567.0,203.8 567.1,204.7 567.2,204.7 567.3,204.5 567.4,203.7 567.5,202.3 567.6,200.6 567.7,202.4 567.8,198.8 567.9,198.9 568.0,198.8 568.1,197.3 568.2,196.0 568.3,192.7 568.4,193.1 568.5,189.7 568.6,188.5 568.7,185.1 568.8,181.6 568.9,179.3 569.0,176.4 569.1,171.0 569.2,168.7 569.3,163.1 569.4,159.3 569.5,155.4 569.6,153.0 569.7,148.3 569.8,144.0 569.9,140.8 570.0,136.0 570.1,134.8 570.2,129.9 570.3,128.6 570.4,126.3 570.5,123.7 570.6,123.3 570.7,123.0 570.8,123.7 570.9,124.2 571.0,127.0 571.1,127.1 571.2,129.9 571.3,131.2 571.4,134.6 571.5,139.0 571.6,141.4 571.7,147.5 571.8,150.9 571.9,155.6 572.0,158.8 572.1,161.2 572.2,164.9 572.3,169.2 572.4,172.5 572.5,174.5 572.6,177.6 572.7,180.8 572.8,183.8 572.9,185.0 573.0,187.0 573.1,188.7 573.2,191.6 573.3,191.3 573.4,192.6 573.5,193.7 573.6,194.7 573.7,194.9 573.8,196.4 573.9,194.6 574.0,197.6 574.1,198.3 574.2,196.8 574.3,198.6 574.4,197.4 574.5,197.9 574.6,197.5 574.7,196.9 574.8,196.8 574.9,198.4 575.0,198.5 575.1,197.0 575.2,199.0 575.3,198.9 575.4,199.0 575.5,195.8 575.6,196.3 575.7,196.9 575.8,197.7 575.9,198.2 576.0,197.8 576.1,198.5 576.2,196.7 576.3,197.0 576.4,196.1 576.5,196.6 576.6,198.0 576.7,194.2 576.8,194.6 576.9,195.0 577.0,193.4 577.1,193.2 577.2,191.6 577.3,191.2 577.4,189.6 577.5,189.9 577.6,187.1 577.7,185.7 577.8,185.6 577.9,183.3 578.0,184.2 578.1,182.0 578.2,184.8 578.3,181.2 578.4,180.1 578.5,179.9 578.6,182.3 578.7,182.1 578.8,183.3 578.9,185.0 579.0,186.1 579.1,188.1 579.2,188.2 579.3,188.6 579.4,190.7 579.5,191.7 579.6,194.4 579.7,194.9 579.8,196.6 579.9,198.9 580.0,198.8 580.1,201.9 580.2,202.5 580.3,201.9 580.4,204.2 580.5,204.8 580.6,205.2 580.7,203.2 580.8,205.8 580.9,207.8 581.0,207.1 581.1,207.8 581.2,209.0 581.3,208.1 581.4,209.1 581.5,208.0 581.6,207.6 581.7,208.6 581.8,209.9 581.9,210.2 582.0,210.8 582.1,210.0 582.2,212.0 582.3,210.2 582.4,211.4 582.5,211.1 582.6,211.0 582.7,210.9 582.8,210.5 582.9,211.4 583.0,211.2 583.1,210.9 583.2,213.0 583.3,211.0 583.4,213.2 583.5,212.1 583.6,213.9 583.7,211.8 583.8,210.0 583.9,211.4 584.0,213.6 584.1,210.8 584.2,211.8 584.3,213.2 584.4,213.8 584.5,212.5 584.6,212.6 584.7,212.7 584.8,214.5 584.9,214.6 585.0,213.0 585.1,215.3 585.2,212.7 585.3,214.1 585.4,214.2 585.5,213.4 585.6,213.2 585.7,214.9 585.8,214.2 585.9,212.5 586.0,211.7 586.1,214.1 586.2,214.0 586.3,213.8 586.4,214.0 586.5,214.1 586.6,213.9 586.7,212.9 586.8,212.8 586.9,214.1 587.0,213.5 587.1,213.8 587.2,214.6 587.3,213.5 587.4,213.7 587.5,214.4 587.6,214.2 587.7,214.2 587.8,213.1 587.9,214.6 588.0,214.1 588.1,214.0 588.2,214.3 588.3,213.3 588.4,214.5 588.5,212.6 588.6,215.4 588.7,213.5 588.8,213.4 588.9,212.9 589.0,211.5 589.1,214.0 589.2,213.0 589.3,213.0 589.4,214.0 589.5,214.2 589.6,213.6 589.7,213.4 589.8,212.1 589.9,214.1 590.0,214.4 590.1,215.0 590.2,213.1 590.3,213.4 590.4,213.2 590.5,213.1 590.6,215.0 590.7,214.1 590.8,212.1 590.9,215.1 591.0,215.1 591.1,215.4 591.2,213.2 591.3,213.2 591.4,214.5 591.5,213.4 591.6,214.1 591.7,214.8 591.8,213.7 591.9,213.7 592.0,212.0 592.1,214.9 592.2,213.4 592.3,215.0 592.4,214.0 592.5,216.3 592.6,212.0 592.7,212.7 592.8,213.0 592.9,213.3 593.0,214.2 593.1,214.3 593.2,215.0 593.3,213.0 593.4,213.9 593.5,214.2 593.6,215.0 593.7,213.9 593.8,213.6 593.9,212.4 594.0,213.5 594.1,213.4 594.2,213.9 594.3,214.9 594.4,215.1 594.5,213.6 594.6,214.6 594.7,214.1 594.8,214.5 594.9,215.1 595.0,214.3 595.1,212.2 595.2,214.2 595.3,214.3 595.4,213.4 595.5,214.1 595.6,213.2 595.7,214.8 595.8,213.0 595.9,213.7 596.0,214.4 596.1,215.4 596.2,214.5 596.3,212.7 596.4,214.3 596.5,215.0 596.6,215.0 596.7,214.9 596.8,213.3 596.9,212.4 597.0,214.2 597.1,213.9 597.2,214.0 597.3,212.8 597.4,213.2 597.5,213.8 597.6,213.2 597.7,212.6 597.8,212.6 597.9,214.4 598.0,213.0 598.1,213.5 598.2,214.6 598.3,213.8 598.4,214.2 598.5,213.4 598.6,211.9 598.7,213.4 598.8,215.6 598.9,214.9 599.0,214.4 599.1,214.0 599.2,214.7 599.3,213.8 599.4,213.4 599.5,211.7 599.6,214.5 599.7,214.2 599.8,213.7 599.9,213.9 600.0,212.6 600.1,213.5 600.2,214.0 600.3,214.1 600.4,214.0 600.5,213.1 600.6,213.3 600.7,214.6 600.8,213.2 600.9,214.0 601.0,213.5 601.1,214.0 601.2,213.0 601.3,213.6 601.4,213.7 601.5,215.6 601.6,214.5 601.7,213.2 601.8,214.4 601.9,213.9 602.0,211.5 602.1,214.5 602.2,213.4 602.3,213.2 602.4,213.8 602.5,214.0 602.6,214.2 602.7,216.0 602.8,213.1 602.9,215.1 603.0,210.4 603.1,213.3 603.2,215.2 603.3,213.9 603.4,212.8 603.5,215.0 603.6,212.9 603.7,213.8 603.8,213.7 603.9,212.6 604.0,214.3 604.1,214.7 604.2,212.6 604.3,211.2 604.4,213.2 604.5,215.7 604.6,213.8 604.7,213.2 604.8,214.8 604.9,213.1 605.0,210.7 605.1,214.2 605.2,212.2 605.3,212.7 605.4,213.5 605.5,214.0 605.6,214.0 605.7,213.4 605.8,211.8 605.9,215.1 606.0,211.7 606.1,214.7 606.2,214.4 606.3,212.3 606.4,212.2 606.5,213.0 606.6,212.1 606.7,213.4 606.8,210.9 606.9,213.0 607.0,210.6 607.1,212.7 607.2,211.7 607.3,213.5 607.4,210.8 607.5,211.2 607.6,212.4 607.7,212.5 607.8,210.6 607.9,212.2 608.0,212.2 608.1,212.6 608.2,212.6 608.3,210.8 608.4,210.8 608.5,211.7 608.6,209.7 608.7,210.4 608.8,212.8 608.9,209.1 609.0,209.9 609.1,210.3 609.2,210.9 609.3,210.0 609.4,209.5 609.5,212.0 609.6,210.1 609.7,210.6 609.8,208.6 609.9,208.6 610.0,208.7 610.1,207.0 610.2,206.6 610.3,207.4 610.4,208.7 610.5,206.8 610.6,206.0 610.7,204.2 610.8,205.3 610.9,204.7 611.0,205.1 611.1,202.4 611.2,203.4 611.3,202.3 611.4,201.1 611.5,200.4 611.6,199.4 611.7,197.9 611.8,196.7 611.9,197.6 612.0,194.9 612.1,193.9 612.2,195.1 612.3,192.1 612.4,193.7 612.5,194.3 612.6,193.5 612.7,194.6 612.8,194.1 612.9,195.7 613.0,196.8 613.1,195.9 613.2,197.3 613.3,196.2 613.4,197.9 613.5,199.5 613.6,201.0 613.7,197.1 613.8,198.2 613.9,197.8 614.0,198.5 614.1,197.5 614.2,198.6 614.3,198.0 614.4,200.1 614.5,198.7 614.6,199.9 614.7,199.8 614.8,200.6 614.9,202.8 615.0,204.4 615.1,203.3 615.2,204.3 615.3,205.8 615.4,206.2 615.5,206.2 615.6,208.1 615.7,208.3 615.8,210.3 615.9,209.0 616.0,207.1 616.1,210.7 616.2,208.9 616.3,209.3 616.4,209.8 616.5,210.7 616.6,210.6 616.7,210.0 616.8,209.7 616.9,209.9 617.0,210.1 617.1,210.4 617.2,210.0 617.3,210.3 617.4,212.0 617.5,210.6 617.6,209.3 617.7,211.1 617.8,209.6 617.9,210.1 618.0,211.9 618.1,210.1 618.2,210.9 618.3,209.9 618.4,211.2 618.5,210.0 618.6,211.0 618.7,210.0 618.8,210.8 618.9,211.0 619.0,210.0 619.1,209.7 619.2,211.2 619.3,210.7 619.4,211.1 619.5,211.0 619.6,210.0 619.7,210.8 619.8,209.9 619.9,210.6 620.0,210.3 620.1,210.5 620.2,212.2 620.3,210.7 620.4,209.8 620.5,211.9 620.6,212.3 620.7,211.1 620.8,210.3 620.9,212.0 621.0,213.3 621.1,210.9 621.2,210.5 621.3,210.8 621.4,211.1 621.5,211.1 621.6,207.7 621.7,211.6 621.8,210.4 621.9,211.8 622.0,210.0 622.1,213.0 622.2,210.9 622.3,212.3 622.4,212.1 622.5,210.8 622.6,210.8 622.7,210.9 622.8,210.5 622.9,211.1 623.0,211.5 623.1,211.7 623.2,212.1 623.3,211.5 623.4,211.3 623.5,211.3 623.6,211.5 623.7,210.4 623.8,212.0 623.9,212.2 624.0,210.4 624.1,210.2 624.2,209.9 624.3,210.8 624.4,212.8 624.5,209.6 624.6,212.4 624.7,211.5 624.8,211.3 624.9,210.2 625.0,211.8 625.1,210.2 625.2,210.5 625.3,211.3 625.4,210.9 625.5,211.0 625.6,209.4 625.7,211.8 625.8,213.2 625.9,209.1 626.0,212.1 626.1,210.8 626.2,211.0 626.3,210.3 626.4,212.3 626.5,211.9 626.6,210.2 626.7,210.5 626.8,211.5 626.9,212.2 627.0,211.0 627.1,210.8 627.2,212.8 627.3,211.7 627.4,211.2 627.5,210.5 627.6,211.6 627.7,211.5 627.8,211.6 627.9,210.7 628.0,212.3 628.1,211.8 628.2,211.6 628.3,211.3 628.4,209.4 628.5,209.5 628.6,211.3 628.7,209.5 628.8,209.3 628.9,209.0 629.0,208.1 629.1,210.2 629.2,208.5 629.3,210.0 629.4,210.2 629.5,209.3 629.6,208.9 629.7,207.8 629.8,208.0 629.9,208.7 630.0,208.0 630.1,209.1 630.2,209.1 630.3,208.9 630.4,208.7 630.5,209.8 630.6,208.3 630.7,208.2 630.8,208.0 630.9,206.7 631.0,207.4 631.1,207.4 631.2,206.1 631.3,207.7 631.4,206.8 631.5,207.1 631.6,205.9 631.7,206.3 631.8,205.5 631.9,206.2 632.0,206.4 632.1,204.9 632.2,206.1 632.3,204.5 632.4,204.8 632.5,203.1 632.6,206.3 632.7,204.6 632.8,205.4 632.9,204.8 633.0,205.7 633.1,204.0 633.2,204.7 633.3,201.1 633.4,203.5 633.5,201.5 633.6,203.7 633.7,201.7 633.8,200.9 633.9,200.2 634.0,199.1 634.1,198.6 634.2,199.2 634.3,195.3 634.4,197.1 634.5,195.3 634.6,194.3 634.7,193.3 634.8,193.5 634.9,193.5 635.0,192.3 635.1,192.1 635.2,192.3 635.3,193.0 635.4,193.0 635.5,192.6 635.6,194.0 635.7,194.7 635.8,193.8 635.9,195.2 636.0,195.4 636.1,197.3 636.2,197.1 636.3,197.4 636.4,199.6 636.5,200.1 636.6,201.2 636.7,201.6 636.8,201.6 636.9,203.0 637.0,204.0 637.1,205.2 637.2,207.1 637.3,205.1 637.4,207.6 637.5,208.2 637.6,208.1 637.7,208.6 637.8,208.0 637.9,210.0 638.0,207.4 638.1,209.1 638.2,209.2 638.3,210.7 638.4,208.8 638.5,209.5 638.6,211.9 638.7,210.5 638.8,211.0 638.9,210.1 639.0,210.6 639.1,211.7 639.2,209.9 639.3,211.6 639.4,210.9 639.5,208.9 639.6,210.8 639.7,211.6 639.8,210.3 639.9,211.6 640.0,209.3 640.1,208.8 640.2,210.4 640.3,209.8 640.4,210.8 640.5,210.0 640.6,209.9 640.7,209.3 640.8,209.4 640.9,208.3 641.0,208.4 641.1,209.2 641.2,206.2 641.3,207.8 641.4,205.6 641.5,207.0 641.6,206.5 641.7,206.2 641.8,206.5 641.9,205.8 642.0,205.5 642.1,205.7 642.2,207.0 642.3,206.4 642.4,207.5 642.5,207.5 642.6,208.4 642.7,209.0 642.8,209.3 642.9,207.3 643.0,207.9 643.1,209.4 643.2,208.4 643.3,209.9 643.4,209.3 643.5,207.7 643.6,208.0 643.7,208.0 643.8,207.0 643.9,207.3 644.0,207.1 644.1,206.0 644.2,206.8 644.3,205.1 644.4,205.0 644.5,208.0 644.6,207.2 644.7,205.3 644.8,206.8 644.9,205.2 645.0,205.5 645.1,206.2 645.2,207.7 645.3,207.0 645.4,207.1 645.5,209.3 645.6,209.4 645.7,208.5 645.8,208.7 645.9,208.8 646.0,208.8 646.1,210.2 646.2,209.1 646.3,212.5 646.4,209.0 646.5,211.3 646.6,209.5 646.7,209.9 646.8,210.0 646.9,211.1 647.0,209.1 647.1,211.2 647.2,211.6 647.3,210.0 647.4,211.5 647.5,210.1 647.6,211.3 647.7,212.0 647.8,210.9 647.9,211.7 648.0,211.3 648.1,213.0 648.2,211.5 648.3,210.7 648.4,212.9 648.5,211.8 648.6,211.8 648.7,211.8 648.8,211.7 648.9,211.3 649.0,211.3 649.1,212.9 649.2,212.5 649.3,212.4 649.4,212.8 649.5,212.0 649.6,213.5 649.7,213.0 649.8,214.0 649.9,214.0 650.0,212.6 650.1,213.3 650.2,212.2 650.3,214.9 650.4,213.8 650.5,214.4 650.6,213.4 650.7,213.5 650.8,212.6 650.9,213.0 651.0,214.5 651.1,212.5 651.2,213.2 651.3,213.8 651.4,213.8 651.5,213.5 651.6,213.8 651.7,214.0 651.8,212.4 651.9,213.6 652.0,213.6 652.1,215.3 652.2,215.2 652.3,214.1 652.4,215.4 652.5,214.0 652.6,215.2 652.7,214.7 652.8,213.6 652.9,215.3 653.0,214.0 653.1,212.0 653.2,214.8 653.3,213.7 653.4,214.3 653.5,214.9 653.6,213.7 653.7,215.1 653.8,214.2 653.9,214.9 654.0,214.3 654.1,214.3 654.2,215.6 654.3,215.9 654.4,213.9 654.5,213.6 654.6,215.6 654.7,213.8 654.8,214.1 654.9,214.8 655.0,215.1 655.1,214.5 655.2,215.5 655.3,214.7 655.4,214.6 655.5,216.0 655.6,216.9 655.7,213.4 655.8,215.6 655.9,215.0 656.0,216.9 656.1,215.1 656.2,214.6 656.3,214.9 656.4,216.0 656.5,214.7 656.6,216.2 656.7,216.0 656.8,214.7 656.9,213.9 657.0,214.1 657.1,216.4 657.2,213.9 657.3,215.3 657.4,214.9 657.5,215.6 657.6,217.1 657.7,215.6 657.8,215.6 657.9,215.3 658.0,217.0 658.1,215.6 658.2,215.1 658.3,214.8 658.4,216.1 658.5,215.6 658.6,215.9 658.7,215.8 658.8,215.2 658.9,215.9 659.0,215.3 659.1,215.7 659.2,215.4 659.3,215.4 659.4,217.6 659.5,214.4 659.6,214.4 659.7,214.0 659.8,215.7 659.9,216.4 660.0,216.0 660.1,214.1 660.2,216.1 660.3,216.4 660.4,215.0 660.5,215.7 660.6,217.4 660.7,214.6 660.8,214.7 660.9,215.7 661.0,216.1 661.1,215.3 661.2,215.8 661.3,217.3 661.4,214.9 661.5,215.9 661.6,214.8 661.7,216.6 661.8,215.4 661.9,215.3 662.0,215.2 662.1,215.3 662.2,213.9 662.3,214.7 662.4,215.3 662.5,215.9 662.6,216.3 662.7,214.4 662.8,215.4 662.9,216.4 663.0,213.7 663.1,215.1 663.2,214.7 663.3,215.1 663.4,217.2 663.5,214.3 663.6,215.0 663.7,215.7 663.8,214.3 663.9,215.0 664.0,215.9 664.1,215.9 664.2,215.1 664.3,214.9 664.4,215.9 664.5,216.0 664.6,214.9 664.7,216.0 664.8,215.4 664.9,215.8 665.0,215.9 665.1,214.8 665.2,215.5 665.3,214.7 665.4,215.4 665.5,214.8 665.6,214.2 665.7,215.9 665.8,214.3 665.9,215.7 666.0,215.3 666.1,214.7 666.2,214.6 666.3,216.5 666.4,215.0 666.5,215.1 666.6,213.4 666.7,215.3 666.8,214.4 666.9,216.2 667.0,215.1 667.1,214.7 667.2,213.6 667.3,214.4 667.4,214.8 667.5,213.7 667.6,215.8 667.7,215.7 667.8,214.8 667.9,214.3 668.0,214.9 668.1,215.8 668.2,215.9 668.3,215.6 668.4,214.1 668.5,214.4 668.6,213.9 668.7,214.4 668.8,214.7 668.9,216.0 669.0,215.1 669.1,213.9 669.2,214.1 669.3,214.0 669.4,213.6 669.5,213.7 669.6,214.3 669.7,213.9 669.8,214.0 669.9,213.8 670.0,213.0 670.1,214.3 670.2,210.9 670.3,211.7 670.4,213.3 670.5,213.4 670.6,213.3 670.7,211.7 670.8,212.9 670.9,212.2 671.0,212.2 671.1,210.8 671.2,211.0 671.3,211.2 671.4,210.4 671.5,212.2 671.6,211.7 671.7,211.6 671.8,212.2 671.9,212.1 672.0,209.8 672.1,210.4 672.2,211.8 672.3,212.5 672.4,211.7 672.5,210.3 672.6,212.0 672.7,212.4 672.8,212.0 672.9,210.9 673.0,211.8 673.1,210.5 673.2,213.1 673.3,214.2 673.4,212.9 673.5,212.9 673.6,212.3 673.7,213.2 673.8,211.1 673.9,212.2 674.0,212.2 674.1,212.9 674.2,212.1 674.3,212.6 674.4,211.9 674.5,213.0 674.6,212.0 674.7,212.9 674.8,212.9 674.9,214.3 675.0,213.1 675.1,212.9 675.2,212.6 675.3,214.5 675.4,211.9 675.5,213.8 675.6,213.6 675.7,214.9 675.8,213.9 675.9,213.7 676.0,212.9 676.1,212.6 676.2,215.0 676.3,213.9 676.4,213.3 676.5,214.3 676.6,215.4 676.7,215.5 676.8,213.8 676.9,214.7 677.0,216.3 677.1,215.0 677.2,216.8" fill="none" stroke="#f80c0c" stroke-width="1.15" stroke-linejoin="round"/>
<rect x="17.5" y="2.7" width="303.30" height="243.50" stroke="#3a3a3a" stroke-width="1.3" fill="none"/>
<rect x="374.5" y="2.7" width="303.20" height="243.50" stroke="#3a3a3a" stroke-width="1.3" fill="none"/>
<g stroke="#3a3a3a" stroke-width="1.1"><line x1="60.83" y1="246.2" x2="60.83" y2="243.7"/><line x1="104.16" y1="246.2" x2="104.16" y2="243.7"/><line x1="147.49" y1="246.2" x2="147.49" y2="243.7"/><line x1="190.81" y1="246.2" x2="190.81" y2="243.7"/><line x1="234.14" y1="246.2" x2="234.14" y2="243.7"/><line x1="277.47" y1="246.2" x2="277.47" y2="243.7"/><line x1="417.81" y1="246.2" x2="417.81" y2="243.7"/><line x1="461.13" y1="246.2" x2="461.13" y2="243.7"/><line x1="504.44" y1="246.2" x2="504.44" y2="243.7"/><line x1="547.76" y1="246.2" x2="547.76" y2="243.7"/><line x1="591.07" y1="246.2" x2="591.07" y2="243.7"/><line x1="634.39" y1="246.2" x2="634.39" y2="243.7"/></g>
<line x1="247.3" y1="10.75" x2="273.7" y2="10.75" stroke="#f26a6a" stroke-width="1.5"/>
<line x1="601.3" y1="10.75" x2="627.8" y2="10.75" stroke="#f26a6a" stroke-width="1.5"/>
<text transform="translate(17.50 256.70) scale(0.9700 1)" font-size="11.10" text-anchor="middle" fill="#000">10</text><text transform="translate(60.83 256.70) scale(0.9700 1)" font-size="11.10" text-anchor="middle" fill="#000">20</text><text transform="translate(104.16 256.70) scale(0.9700 1)" font-size="11.10" text-anchor="middle" fill="#000">30</text><text transform="translate(147.49 256.70) scale(0.9700 1)" font-size="11.10" text-anchor="middle" fill="#000">40</text><text transform="translate(190.81 256.70) scale(0.9700 1)" font-size="11.10" text-anchor="middle" fill="#000">50</text><text transform="translate(234.14 256.70) scale(0.9700 1)" font-size="11.10" text-anchor="middle" fill="#000">60</text><text transform="translate(277.47 256.70) scale(0.9700 1)" font-size="11.10" text-anchor="middle" fill="#000">70</text><text transform="translate(320.80 256.70) scale(0.9700 1)" font-size="11.10" text-anchor="middle" fill="#000">80</text>
<text transform="translate(374.50 256.70) scale(0.9700 1)" font-size="11.10" text-anchor="middle" fill="#000">10</text><text transform="translate(417.81 256.70) scale(0.9700 1)" font-size="11.10" text-anchor="middle" fill="#000">20</text><text transform="translate(461.13 256.70) scale(0.9700 1)" font-size="11.10" text-anchor="middle" fill="#000">30</text><text transform="translate(504.44 256.70) scale(0.9700 1)" font-size="11.10" text-anchor="middle" fill="#000">40</text><text transform="translate(547.76 256.70) scale(0.9700 1)" font-size="11.10" text-anchor="middle" fill="#000">50</text><text transform="translate(591.07 256.70) scale(0.9700 1)" font-size="11.10" text-anchor="middle" fill="#000">60</text><text transform="translate(634.39 256.70) scale(0.9700 1)" font-size="11.10" text-anchor="middle" fill="#000">70</text><text transform="translate(677.70 256.70) scale(0.9700 1)" font-size="11.10" text-anchor="middle" fill="#000">80</text>
<text transform="translate(280.00 15.90) scale(0.9550 1)" font-size="12.90" text-anchor="start" fill="#000">VO</text><text transform="translate(297.20 19.00)" font-size="10.00" text-anchor="start" fill="#000">2</text><text transform="translate(302.20 15.60)" font-size="12.90" text-anchor="start" fill="#000">(B)</text><text transform="translate(634.30 15.90) scale(0.9350 1)" font-size="12.90" text-anchor="start" fill="#000">VO</text><text transform="translate(651.90 19.00)" font-size="10.00" text-anchor="start" fill="#000">2</text><text transform="translate(656.50 15.60)" font-size="12.90" text-anchor="start" fill="#000">(M)</text><text transform="translate(266.90 230.40) scale(0.9840 1)" font-size="9.40" text-anchor="start" fill="#000">PDF#31-1438</text><text transform="translate(624.50 230.30) scale(0.9870 1)" font-size="9.40" text-anchor="start" fill="#000">PDF#43-1051</text><text transform="translate(451.75 19.90) scale(0.9850 1)" font-size="10.00" text-anchor="middle" fill="#000">(011)</text><text transform="translate(491.55 100.00) scale(0.9650 1)" font-size="10.00" text-anchor="middle" fill="#000">(-211)</text><text transform="translate(514.45 168.00) scale(0.9600 1)" font-size="10.00" text-anchor="middle" fill="#000">(-212)</text><text transform="translate(571.30 119.50) scale(0.9500 1)" font-size="10.00" text-anchor="middle" fill="#000">(220)</text><text transform="translate(612.00 188.30) scale(0.9750 1)" font-size="10.00" text-anchor="middle" fill="#000">(031)</text><text transform="translate(635.45 188.30) scale(0.9550 1)" font-size="10.00" text-anchor="middle" fill="#000">(-231)</text><text transform="translate(141.29 274.60) scale(1.0529 1)" font-size="12.10" text-anchor="start" fill="#000">2θ(degree)</text><text transform="translate(498.49 274.80) scale(1.0529 1)" font-size="12.10" text-anchor="start" fill="#000">2θ(degree)</text><text transform="translate(163.00 299.65)" font-size="14.30" text-anchor="middle" font-family="Liberation Sans, sans-serif" font-weight="bold" fill="#141414">(a)</text><text transform="translate(528.40 299.65)" font-size="14.30" text-anchor="middle" font-family="Liberation Sans, sans-serif" font-weight="bold" fill="#141414">(b)</text><text transform="translate(11.80 124.45) rotate(-90) scale(0.9556 1)" font-size="13.30" text-anchor="middle" fill="#000">Intensity(a.u.)</text><text transform="translate(368.60 124.35) rotate(-90) scale(0.9556 1)" font-size="13.30" text-anchor="middle" fill="#000">Intensity(a.u.)</text>
</g>
</svg>
</body></html>
